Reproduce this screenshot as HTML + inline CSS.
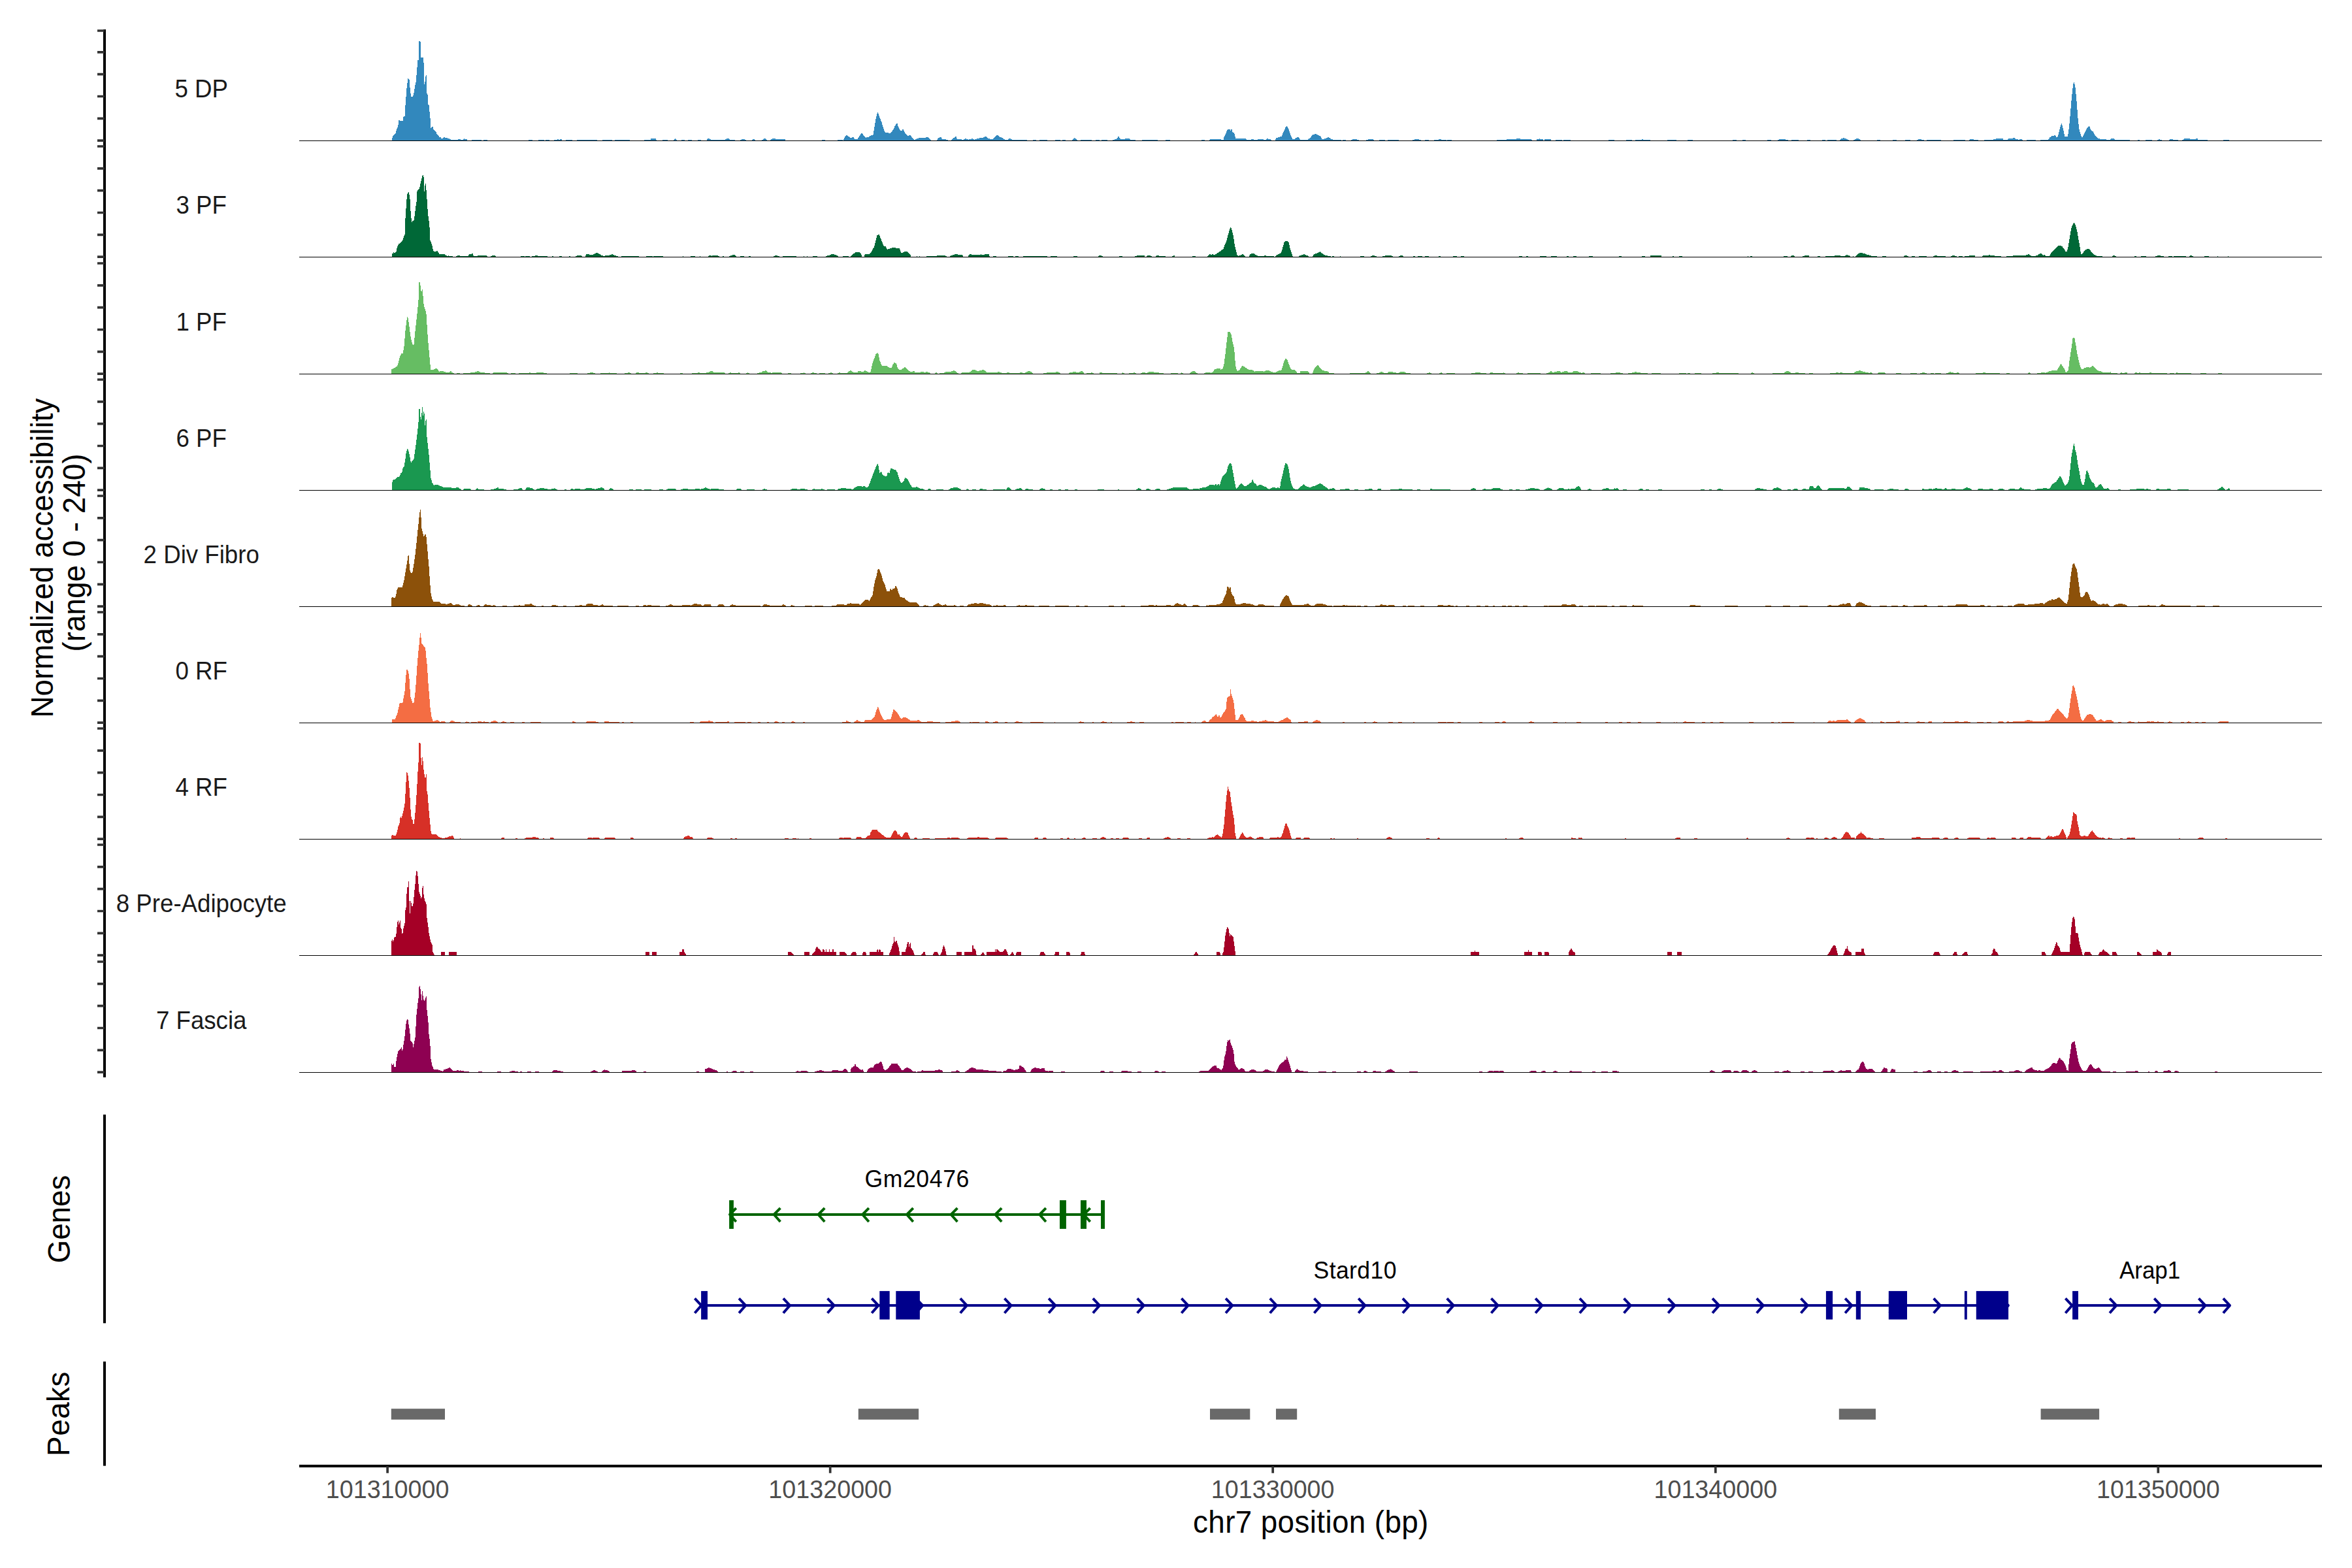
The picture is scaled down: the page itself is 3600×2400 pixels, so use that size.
<!DOCTYPE html>
<html><head><meta charset="utf-8"><title>Coverage plot</title>
<style>html,body{margin:0;padding:0;background:#fff}svg{display:block}text{font-family:"Liberation Sans", sans-serif}</style></head>
<body>
<svg width="3600" height="2400" viewBox="0 0 3600 2400">
<rect width="3600" height="2400" fill="#fff"/>
<path d="M599.9 215.5L599.9 215.5L600.8 209.4L603.4 205.6L605.7 204.3L607.2 197.3L609.1 193.5L610.5 183.9L611.5 183.9L612.3 184.8L616.8 184.8L617.4 178.8L619.9 177.3L620.6 159.1L621.6 146.9L622.5 134.8L623.5 127.8L623.7 119.5L624.7 119.5L626.6 122.1L627.3 131.6L628.5 143.1L629.3 148L631.7 148L633.3 143.1L634.6 135.5L635.6 129.1L636.5 125.9L637.3 117L638.3 105.5L639.3 91.7L641 91.5L641.4 77.7L641.5 62.8L642.5 62.8L643.8 64L643.9 88.5L647.3 87.8L648 87.8L648 95.5L648.9 96.6L649 128.7L650.1 128.7L651.2 117.6L652.2 114.8L652.9 114.8L652.9 141.8L654.6 145L655 159.1L656.6 161L656.9 170.5L657.8 171.8L658.2 180.7L658.9 181.4L659.1 196.1L660.1 195.7L661.2 193.8L662.2 193.8L663.1 195.4L663.3 198L667.8 202.2L668.2 205L671 207.5L672.2 209.7L674.8 209.8L675.2 211.7L678 211.7L679 209.7L680 209.7L680.8 210.1L681.2 211.4L681.9 210.7L682.9 210.7L684.4 211L686.3 212.2L689.8 212.9L690.1 213.9L700.3 213.9L701.6 212.9L704.8 212.9L705 213.9L709 213.9L710 212L711 212L711.8 212.9L715 212.9L715.1 215.5L715.1 215.5ZM722.2 215.5V214H736.7V215.5ZM740.1 215.5V214H746V215.5ZM809.1 215.5V214H815.1V215.5ZM824 215.5V214H833V215.5ZM835.3 215.5V214H841V215.5ZM848.3 215.5L848.3 215.5L848.5 213.9L853.4 213.9L853.6 212.9L855.3 212.9L855.4 213.9L857.2 213.9L857.3 212.9L860 212.9L860 215.5L860 215.5ZM866.1 215.5V214H876V215.5ZM883.1 215.5V214H913.8V215.5ZM922.1 215.5V214H937V215.5ZM941.1 215.5V214H963.8V215.5ZM986.1 215.5L986.1 215.5L986.7 213.7L995.6 213.7L996.2 211.6L1003 211.6L1006 215.5L1006 215.5ZM1013.5 215.5V213.5H1022.4V215.5ZM1029.8 215.5L1029.8 215.5L1033.2 212.2L1034.2 212.2L1037.3 215.5L1037.3 215.5ZM1042.6 215.5V214H1047.7V215.5ZM1053 215.5V214H1059V215.5ZM1067.9 215.5V214H1073V215.5ZM1081 215.5L1081 215.5L1083.8 211.6L1084.8 211.6L1087.9 213.7L1110.2 213.7L1113.5 211.6L1114.5 211.6L1117.6 213.7L1125.1 213.7L1125.4 215.5L1125.4 215.5ZM1131.9 215.5L1131.9 215.5L1136.5 212.5L1137.5 212.5L1144.4 215.5L1144.4 215.5ZM1149.8 215.5L1149.8 215.5L1152.8 212.5L1153.8 212.5L1156.9 215.5L1156.9 215.5ZM1165.2 215.5L1165.2 215.5L1169.8 211.6L1170.8 211.6L1174.8 215.5L1174.8 215.5ZM1178 215.5L1178 215.5L1182.6 211.6L1183.6 211.6L1189 213.1L1201.8 213.4L1202.1 215.5L1202.1 215.5ZM1257.5 215.5V214H1262.9V215.5ZM1281.9 215.5V214H1290.2V215.5ZM1290.2 215.5L1290.2 215.5L1293.2 209.5L1295.7 207.2L1296.7 207.2L1299.8 209.5L1302.7 211.3L1305.2 210.1L1306.2 210.1L1308.7 213.1L1312.6 213.1L1315.5 207.8L1318.6 204.2L1319.6 204.2L1322.4 207.8L1325.4 210.7L1328.9 210.1L1332.5 207.8L1336.4 206.6L1337.9 198.2L1340.2 183.3L1343 172.3L1344 172.3L1346.2 178.9L1349.2 186.3L1351.8 195.3L1354.8 202.7L1358.7 203.3L1362.3 204.2L1365.2 201.2L1368.2 196.7L1370 192.3L1372.5 189.3L1373.5 189.3L1375.1 194.7L1378 199.7L1380.1 200.6L1381.4 197.6L1382.4 197.6L1384 201.8L1387 205.7L1389 208.1L1392.4 207.2L1393.4 207.2L1395.9 210.1L1399.8 214L1401.8 213.1L1404.8 211.6L1410.8 211L1416.7 211L1418.3 209.5L1419.3 209.5L1421.8 211L1425.7 215.5L1425.7 215.5ZM1434 215.5L1434 215.5L1436.1 211L1440 210.1L1441 210.1L1442 213.1L1450.4 213.7L1451 215.5L1451 215.5ZM1455.4 215.5L1455.4 215.5L1459.3 211.6L1462.4 209.2L1463.4 209.2L1465.2 213.1L1474.8 213.7L1477.2 212.2L1478.2 212.2L1482.2 213.7L1487.7 212.2L1488.7 212.2L1491.1 213.7L1497.1 211.9L1504.5 210.7L1508.5 208.9L1509.5 208.9L1512 211.3L1516.4 213.1L1520 213.1L1520 215.5L1520 215.5ZM1520 215.5L1520 215.5L1520 213.1L1523 209.2L1526 206.6L1527 206.6L1530.4 209.5L1534.9 211.6L1537.9 213.7L1542.3 213.7L1544.8 211.9L1545.8 211.9L1548.3 213.1L1549.8 214L1572.1 214L1572.4 215.5L1572.4 215.5ZM1581 215.5V214H1585.5V215.5ZM1591.4 215.5V213.8H1602.7V215.5ZM1615.2 215.5V214H1622.7V215.5ZM1625.7 215.5V214H1630.7V215.5ZM1639.9 215.5L1639.9 215.5L1643.9 211.3L1644.9 211.3L1648 213.1L1649.5 215.5L1649.5 215.5ZM1653.9 215.5V214H1670.9V215.5ZM1677.1 215.5V214H1682.8V215.5ZM1686.1 215.5V214H1695V215.5ZM1703 215.5L1703 215.5L1703.3 214L1709 213.1L1711.5 209.2L1712.5 209.2L1714 211.6L1716.4 213.4L1721.8 213.4L1722.5 211.9L1723.5 211.9L1728.3 212.2L1729.8 213.7L1737.9 214L1738.2 215.5L1738.2 215.5ZM1748.3 215.5V214H1772.1V215.5ZM1784 215.5V214H1790.8V215.5ZM1839 215.5V214H1843.8V215.5ZM1850.4 215.5L1850.4 215.5L1851.8 213.4L1859.3 213.4L1862.3 212.5L1866.7 212.5L1869.7 213.7L1872.7 213.7L1873.6 210.1L1875.7 205.7L1878 199.7L1879.6 198.2L1880.6 198.2L1881 200.6L1881.7 197.6L1882.7 197.6L1883.7 200.6L1884.4 197.6L1885.4 197.6L1886.1 202.1L1889 203.3L1890.5 208.6L1891.4 212.2L1906.9 212.2L1908.4 214L1914.3 214L1916.8 212.5L1917.8 212.5L1919.4 214L1924.2 214L1926.2 212.5L1932.2 212.5L1934.3 214L1938.2 214L1939.1 212.2L1940.1 212.2L1942 213.4L1945 213.4L1946.2 215.5L1946.2 215.5ZM1951.5 215.5L1951.5 215.5L1953 211.6L1957.5 210.1L1962 208.6L1963.5 204.2L1965.8 199.7L1967.9 194.4L1968.9 193.2L1969.9 193.2L1971.8 196.7L1973.9 201.8L1976 208.6L1978.3 212.5L1981.3 213.1L1984.3 210.7L1986.2 209.5L1987.2 209.5L1988.8 211.6L1990.2 214L2000.7 214L2005.1 211.6L2008.1 207.2L2011.1 205.7L2013.5 204.8L2014.5 204.8L2017 206.6L2021.5 208.6L2023.6 213.1L2026 213.1L2029.5 211.6L2032.9 210.1L2033.9 210.1L2036.4 212.2L2040.8 213.7L2045.3 214L2052.7 214L2054.2 215.5L2054.2 215.5ZM2054.8 215.5V214H2060.2V215.5ZM2065.2 215.5L2065.2 215.5L2070.6 213.4L2073.7 212.5L2074.7 212.5L2076 213.4L2079.5 214L2079.8 215.5L2079.8 215.5ZM2089 215.5L2089 215.5L2092.9 213.7L2096.9 212.8L2097.9 212.8L2101.8 213.4L2103.3 215.5L2103.3 215.5ZM2111.4 215.5V214H2119.7V215.5ZM2124.2 215.5V214H2141.1V215.5ZM2159.3 215.5L2159.3 215.5L2164.3 213.7L2168.3 212.8L2169.3 212.8L2173.3 213.7L2176.2 215.5L2176.2 215.5ZM2181.3 215.5V214H2186.7V215.5ZM2195 215.5L2195 215.5L2195.6 213.7L2201.5 213.7L2203.4 213.1L2204.4 213.1L2206.3 213.7L2213.5 213.7L2213.8 215.5L2213.8 215.5ZM2214.9 215.5V214H2220V215.5ZM2220 215.5V214H2222.4V215.5ZM2290.8 215.5L2290.8 215.5L2291.1 213.7L2306.3 213.7L2306.6 212.8L2321.2 212.8L2321.5 211.9L2326.5 211.9L2326.8 213.4L2340.5 213.4L2340.8 212.5L2344.4 212.5L2344.7 215.5L2344.7 215.5ZM2351.8 215.5L2351.8 215.5L2352.4 213.1L2355.4 213.1L2355.8 212.2L2356.8 212.2L2357.5 213.1L2362.3 213.1L2362.6 215.5L2362.6 215.5ZM2363.5 215.5L2363.5 215.5L2364 213.1L2367.3 213.1L2368.3 212.5L2369.3 212.5L2370.3 213.1L2373.9 213.1L2374.2 215.5L2374.2 215.5ZM2380.7 215.5V214H2391.1V215.5ZM2393.2 215.5V214H2403.9V215.5ZM2462 215.5V214H2470.9V215.5ZM2488.8 215.5V214H2497.7V215.5ZM2502.7 215.5L2502.7 215.5L2503 213.7L2513.2 213.7L2513.5 212.5L2514.5 212.5L2514.9 213.7L2526 213.7L2526.2 215.5L2526.2 215.5ZM2551.8 215.5V214H2565.8V215.5ZM2583.1 215.5V214H2591.1V215.5ZM2652.1 215.5V214H2658.1V215.5ZM2667 215.5V214H2671.8V215.5ZM2705.1 215.5V214H2711.1V215.5ZM2719.1 215.5L2719.1 215.5L2723 213.4L2725.5 212.8L2726.5 212.8L2730.4 213.4L2736.4 213.7L2737 215.5L2737 215.5ZM2742.3 215.5V213.8H2752.7V215.5ZM2766.1 215.5V214H2770.6V215.5ZM2789 215.5V214H2793.8V215.5ZM2797.4 215.5V213.8H2810.8V215.5ZM2814.6 215.5L2814.6 215.5L2818.2 212.5L2821.3 211.3L2822.3 211.3L2825.7 212.5L2829.5 214L2829.8 215.5L2829.8 215.5ZM2836.1 215.5L2836.1 215.5L2839.6 212.8L2843 212.2L2844 212.2L2846.5 212.8L2848.9 215.5L2848.9 215.5ZM2873.3 215.5V214H2877.7V215.5ZM2897.1 215.5V214H2903V215.5ZM2916.4 215.5V214H2920V215.5ZM2900 215.5V214H2903V215.5ZM2917 215.5V214H2923.8V215.5ZM2932.7 215.5L2932.7 215.5L2936.7 213.1L2937.7 213.1L2944.6 214L2945.2 215.5L2945.2 215.5ZM2949.1 215.5V214H2970.8V215.5ZM2990.2 215.5V214H3008V215.5ZM3012.2 215.5L3012.2 215.5L3015.6 213.4L3016.6 213.4L3028 213.7L3028.9 215.5L3028.9 215.5ZM3036.3 215.5L3036.3 215.5L3036.9 213.7L3050.3 213.7L3054.8 212.5L3064.7 212.2L3065.7 212.2L3066.1 213.7L3072.6 213.7L3074.1 212.2L3080.1 212.2L3082.5 211L3083.5 211L3085.1 213.1L3090.5 213.7L3093 213.1L3094 213.1L3097 215.5L3097 215.5ZM3101.5 215.5V214H3115.8V215.5ZM3122.6 215.5L3122.6 215.5L3123.2 213.7L3135.1 213.7L3137.2 210.7L3141.1 208.1L3145 207.2L3146 207.2L3147.6 210.1L3150 208.6L3152.4 198.2L3154.9 189.3L3155.9 189.3L3158 198.2L3160.4 208.6L3164.9 208.6L3167 195.3L3168.8 174.4L3170.8 150.6L3172.9 131.3L3173.9 125.9L3174.9 125.9L3176.8 135.7L3178.9 159.5L3180.7 183.3L3182.7 199.7L3185.1 207.2L3187.2 210.7L3190.2 204.2L3194 196.7L3197.1 193.2L3198.1 193.2L3200.6 199.7L3203.6 201.2L3206.5 206.6L3211 211.6L3214 212.5L3222.9 212.5L3224.4 214L3228.9 214L3231.8 212.2L3235.7 212.2L3237.8 214L3260.1 214L3260.7 215.5L3260.7 215.5ZM3272 215.5V214H3275V215.5ZM3283.9 215.5V213.8H3294.3V215.5ZM3300.3 215.5L3300.3 215.5L3304.3 213.4L3305.3 213.4L3308.3 214L3309.2 215.5L3309.2 215.5ZM3318.2 215.5L3318.2 215.5L3322.1 212.8L3323.1 212.8L3327.1 213.7L3333.9 214L3334.5 215.5L3334.5 215.5ZM3339 215.5L3339 215.5L3344.4 211.6L3345.4 211.6L3352.4 212.5L3359.8 212.8L3362.3 212.2L3363.3 212.2L3364.3 213.7L3373.2 214L3377.2 213.7L3378.2 213.7L3379.2 215.5L3379.2 215.5ZM3403 215.5V214H3411.9V215.5Z" fill="#3288BD" shape-rendering="crispEdges"/>
<rect x="458" y="215" width="3096" height="1" fill="#000"/>
<text transform="translate(308.2 148.8) scale(1 1.04)" font-size="36.67" text-anchor="middle" fill="#1A1A1A">5 DP</text>
<path d="M599.9 393.5L599.9 393.5L600.2 388.2L601.8 388L602 385.9L603 385.9L603.4 387.2L605.3 386.7L606.6 384.4L608.2 377.4L610.4 373.2L611.7 372.9L615.7 368.8L617.1 365.2L618.4 360.8L619.7 358.9L620.2 338.5L621.2 324.4L622.2 307.2L623.5 297L624.9 293.8L625.9 293.8L626.7 298.9L627.9 308.5L628.6 324.4L629.5 334L630.2 340L631.4 338.2L633.6 336.9L635 328.3L636.1 316.8L637.4 311L638.2 293.2L639.7 290.6L641.9 288.5L643.5 281.1L645.1 274.1L646.9 267.9L647.9 267.9L648.6 271.1L649.3 292.8L649.9 292.8L650.3 284.9L651.1 281.1L652.1 281.1L652.1 291.3L652.9 291.3L653.5 305.3L654.4 319.3L655.3 328.9L656.6 339.1L657.6 349.3L658.2 367.2L659.5 370.4L660.8 373.5L662 378L663.1 384.1L665.2 385L667.8 385L668.2 384L669.2 384L671 386.3L672.2 389.1L680.5 389.1L682.2 391L684.4 391.7L685.6 392L685.8 391L686.8 391L687.2 392L692.7 392L693 393.5L693 393.5ZM697.8 393.5L697.8 393.5L698.4 392L700.9 391.4L703.5 391.4L704.1 392L716.6 392L717.5 389.7L718.8 389.1L721.7 389.1L722.6 388.2L723.6 388.2L724.3 391L725.2 392L730.9 392L731.6 391.1L744.7 391.1L745.2 391.8L746.9 393.5L746.9 393.5ZM750.7 393.5L750.7 393.5L751.3 392L755.2 391.1L757.7 391.1L759.9 393.5L759.9 393.5ZM797 393.5V392.2H803V393.5ZM803.9 393.5V392.2H811V393.5ZM813.8 393.5L813.8 393.5L814 392L818.9 392L819.1 391.1L822.8 391.1L822.9 392L830.2 392L830.3 393.5L830.3 393.5ZM831 393.5V392.2H838.1V393.5ZM845.1 393.5V392.2H847V393.5ZM820 393.5V391.8H837.9V393.5ZM845.3 393.5V392H846.8V393.5ZM855.7 393.5V392H860.2V393.5ZM870.6 393.5V392H873V393.5ZM879.5 393.5L879.5 393.5L884 391.1L889.9 391.1L891.4 393.5L891.4 393.5ZM895.9 393.5L895.9 393.5L896.8 389.3L901.8 389.3L904.2 390.5L907.8 389.9L910.8 388.1L913.2 386.9L914.2 386.9L916.7 388.1L921.2 391.1L924.2 391.7L931.6 390.8L937.1 389.3L938.1 389.3L940.5 391.1L945 392L946.5 393.5L946.5 393.5ZM951 393.5V391.5H977.7V393.5ZM988.8 393.5V391.8H998.6V393.5ZM1000.1 393.5V391.8H1014.9V393.5ZM1044.7 393.5V392H1045.9V393.5ZM1056.6 393.5V391.8H1064V393.5ZM1070.9 393.5V392H1072.1V393.5ZM1083.4 393.5L1083.4 393.5L1086.5 390.5L1087.5 390.5L1089.3 391.7L1092.3 390.8L1096.8 390.8L1101.2 392L1101.5 393.5L1101.5 393.5ZM1105.7 393.5V392H1108.1V393.5ZM1114.6 393.5L1114.6 393.5L1119.1 390.8L1123.1 390.2L1124.1 390.2L1126.5 391.7L1128 393.5L1128 393.5ZM1132.5 393.5V392H1138.5V393.5ZM1145.9 393.5V392H1148.9V393.5ZM1181.6 393.5L1181.6 393.5L1187.1 391.1L1188.1 391.1L1192 392L1194.4 393.5L1194.4 393.5ZM1198 393.5V391.8H1218.8V393.5ZM1230.1 393.5V392H1231.3V393.5ZM1234.6 393.5V392H1235.8V393.5ZM1244.1 393.5V392H1251V393.5ZM1262 393.5L1262 393.5L1264.9 391.7L1269.4 391.1L1273.4 388.7L1274.4 388.7L1278.3 389.9L1282.8 391.7L1284.3 393.5L1284.3 393.5ZM1290.2 393.5V391.8H1298.6V393.5ZM1301.5 393.5L1301.5 393.5L1305.1 389.3L1309.6 386.4L1316.4 386.4L1318.5 390.2L1319.4 393.5L1319.4 393.5ZM1323 393.5L1323 393.5L1323.6 389.3L1330.4 389.3L1332.5 387.5L1334.9 382.8L1337.9 378.3L1340.2 369.4L1342.3 360.5L1344.8 359.3L1345.8 359.3L1347.4 363.4L1349.8 369.4L1352.7 376.8L1355.7 377.4L1358.1 381.9L1362.3 380.4L1367.1 378.6L1368.1 378.6L1372.1 379.8L1377.1 380.4L1378.9 386.4L1381 387.2L1384.6 385.2L1388.5 385.2L1391.4 387.8L1393.8 390.2L1394.4 393.5L1394.4 393.5ZM1402.7 393.5V392H1403.9V393.5ZM1407.2 393.5V392H1408.4V393.5ZM1418.2 393.5V391.8H1433.1V393.5ZM1432.5 393.5L1432.5 393.5L1433.1 391.7L1437.6 390.5L1445 390.5L1448.6 392L1451 393.5L1451 393.5ZM1452.4 393.5L1452.4 393.5L1455.4 391.1L1459.9 389.9L1463.8 388.7L1464.8 388.7L1467.3 390.2L1473.3 390.2L1474.8 393.5L1474.8 393.5ZM1480.7 393.5L1480.7 393.5L1484.7 388.7L1485.7 388.7L1489.6 390.5L1493.6 389.6L1494.6 389.6L1498.6 390.5L1501 389.3L1502 389.3L1504.5 390.5L1507.5 389.3L1513.5 389.3L1514 392L1517.9 393.5L1517.9 393.5ZM1520 393.5V391.8H1525.4V393.5ZM1543.2 393.5V392H1550.7V393.5ZM1554.2 393.5V392H1558.7V393.5ZM1566.1 393.5V391.8H1602.7V393.5ZM1608.4 393.5V392H1617.6V393.5ZM1642.9 393.5V392H1648.6V393.5ZM1679.2 393.5L1679.2 393.5L1682.6 391.1L1683.6 391.1L1688.2 392L1689 393.5L1689 393.5ZM1712.9 393.5V392H1717.9V393.5ZM1734.9 393.5L1734.9 393.5L1740.2 391.4L1744.7 390.8L1751.5 390.8L1753 393.5L1753 393.5ZM1754.5 393.5L1754.5 393.5L1755.1 392L1757.6 390.8L1758.6 390.8L1762.6 392L1763.5 393.5L1763.5 393.5ZM1768.5 393.5L1768.5 393.5L1771 390.8L1772 390.8L1774.5 391.7L1783.4 391.7L1784 393.5L1784 393.5ZM1792.9 393.5L1792.9 393.5L1796.3 391.1L1797.3 391.1L1798.9 393.5L1798.9 393.5ZM1825.1 393.5V392H1830.1V393.5ZM1846.8 393.5L1846.8 393.5L1849.8 391.1L1851.3 389.3L1852.3 389.3L1853.9 390.5L1855.8 389.3L1856.8 389.3L1858.4 390.5L1862.3 388.1L1866.7 385.2L1872.7 380.7L1874.2 375.3L1877.1 369.4L1879.5 360.5L1881.6 353L1883.2 348L1884.2 348L1886.1 354.5L1888.2 363.4L1889.9 375.3L1892 384.3L1893.5 390.2L1895.6 391.7L1899.5 390.2L1901.9 389.3L1902.9 389.3L1904.8 391.1L1906.3 393.5L1906.3 393.5ZM1911.4 393.5L1911.4 393.5L1913.5 389.3L1916.8 387.5L1917.8 387.5L1920.3 388.7L1923.3 390.8L1925.4 392L1933.7 392L1936.2 391.1L1937.2 391.1L1939.6 392L1948.6 392L1951.5 393.5L1951.5 393.5ZM1951.5 393.5L1951.5 393.5L1954.5 390.2L1959 388.1L1961.4 385.8L1963.5 378.3L1965.5 370.9L1967.9 368.5L1970.9 368.5L1973 372.4L1974.8 381.3L1976.8 387.2L1978.9 393.5L1978.9 393.5ZM1985.8 393.5L1985.8 393.5L1990.2 391.1L1995.1 389.3L1996.1 389.3L1999.2 390.8L2002.1 391.1L2003.6 393.5L2003.6 393.5ZM2008.1 393.5L2008.1 393.5L2011.1 389.3L2015.5 387.8L2020.1 385.2L2021.1 385.2L2023 387.2L2026 389.3L2029.5 391.4L2036.4 391.7L2037 393.5L2037 393.5ZM2039.3 393.5V392H2042.3V393.5ZM2050.7 393.5V392H2051.8V393.5ZM2081.9 393.5V391.8H2087.9V393.5ZM2096.5 393.5L2096.5 393.5L2101.3 391.1L2102.3 391.1L2106.9 392L2107.8 393.5L2107.8 393.5ZM2114.3 393.5L2114.3 393.5L2118.2 391.7L2125.2 390.8L2126.2 390.8L2131.6 391.7L2132.5 393.5L2132.5 393.5ZM2139.9 393.5L2139.9 393.5L2143.6 390.8L2144.6 390.8L2148 392L2148.6 393.5L2148.6 393.5ZM2162.9 393.5V392H2166.4V393.5ZM2170.3 393.5V392H2176.8V393.5ZM2180.7 393.5V392H2186.7V393.5ZM2201.5 393.5V392H2205.1V393.5ZM2223.6 393.5V392H2229.8V393.5ZM2235.5 393.5V392H2240.8V393.5ZM2325.1 393.5V392H2330.1V393.5ZM2335.5 393.5V392H2339V393.5ZM2356.9 393.5V392H2366.7V393.5ZM2373.9 393.5V392H2382.8V393.5ZM2398 393.5V392H2401V393.5ZM2408.1 393.5V392H2412.9V393.5ZM2431.9 393.5V392H2437.9V393.5ZM2478 393.5V392H2481.9V393.5ZM2513.2 393.5V392H2518.2V393.5ZM2526 393.5L2526 393.5L2526.2 391.4L2537 391.4L2537.4 390.5L2538.4 390.5L2538.8 391.4L2542.9 391.4L2543.2 393.5L2543.2 393.5ZM2560.2 393.5V392H2561.7V393.5ZM2569.7 393.5V392H2574.8V393.5ZM2674.8 393.5V392H2676V393.5ZM2679.2 393.5V392H2681.9V393.5ZM2729.8 393.5V392H2735.8V393.5ZM2739.9 393.5L2739.9 393.5L2743.3 390.8L2744.3 390.8L2746.8 392L2747.4 393.5L2747.4 393.5ZM2756.6 393.5L2756.6 393.5L2760.2 391.7L2764.6 391.1L2767.1 390.8L2768.1 390.8L2770 393.5L2770 393.5ZM2781.9 393.5V392H2786.1V393.5ZM2792.9 393.5L2792.9 393.5L2794.4 391.7L2807.8 391.7L2810.3 390.5L2811.3 390.5L2816.7 391.1L2817.3 392L2823.6 392L2826 390.2L2827 390.2L2830.1 391.1L2832.5 393.5L2832.5 393.5ZM2835.5 393.5V392H2836.7V393.5ZM2839.6 393.5L2839.6 393.5L2843.5 388.7L2846.5 387.2L2849.5 387.2L2853.9 388.1L2858.4 389.9L2862.9 391.1L2864.3 392L2872.7 392L2873.3 393.5L2873.3 393.5ZM2880.7 393.5V392H2886.7V393.5ZM2913.5 393.5L2913.5 393.5L2915.9 391.1L2916.9 391.1L2920 392L2920 393.5L2920 393.5ZM2913.4 393.5L2913.4 393.5L2915.9 391.1L2916.9 391.1L2920.8 392L2921.7 393.5L2921.7 393.5ZM2925.9 393.5V392H2931.2V393.5ZM2937.2 393.5V391.8H2948.5V393.5ZM2956.5 393.5L2956.5 393.5L2962 391.1L2963 391.1L2968.5 392L2977.4 392L2978 393.5L2978 393.5ZM2983.9 393.5L2983.9 393.5L2988.8 391.1L2989.8 391.1L2994.6 392L2995.2 393.5L2995.2 393.5ZM2998.2 393.5V392H3004.2V393.5ZM3006.2 393.5L3006.2 393.5L3007.1 392L3016.1 391.4L3021.5 391.1L3022.5 391.1L3023.5 393.5L3023.5 393.5ZM3032.4 393.5L3032.4 393.5L3035.4 391.4L3041.4 391.4L3044.4 390.2L3045.4 390.2L3047.9 391.1L3054.8 391.7L3063.1 392L3063.7 393.5L3063.7 393.5ZM3069.6 393.5L3069.6 393.5L3071.1 392L3080.1 391.7L3084.5 391.1L3093.5 391.1L3097.9 391.1L3102.4 390.2L3104.9 389.3L3105.9 389.3L3108.3 391.1L3109.8 392L3114.3 392L3118.8 390.8L3122.1 388.1L3123.1 388.1L3125.3 388.7L3127.7 391.1L3128.7 390.2L3129.7 390.2L3130.7 391.7L3137.2 391.7L3139.6 387.2L3142.6 384.3L3145.5 381.3L3148.5 377.7L3151.9 375.6L3152.9 375.6L3156 376.8L3158.9 380.4L3161.9 385.2L3163.4 385.2L3165.5 378.3L3167.9 363.4L3170.2 350L3172.3 344.1L3173.9 341.1L3174.9 341.1L3176.8 344.7L3179.2 353L3181.2 364.9L3183.3 376.8L3185.1 388.7L3187.2 388.7L3190.2 384.3L3193.2 381.9L3195.6 380.7L3196.6 380.7L3199.1 382.8L3202.1 387.2L3206 390.2L3209.5 392L3217.9 392L3218.5 393.5L3218.5 393.5ZM3231.8 393.5L3231.8 393.5L3234.3 391.1L3235.3 391.1L3238.7 392L3239.3 393.5L3239.3 393.5ZM3267 393.5V392H3269.9V393.5ZM3277.4 393.5V392H3284.8V393.5ZM3295.8 393.5L3295.8 393.5L3301.8 391.7L3304.9 390.5L3305.9 390.5L3307.7 391.7L3312.2 392L3312.8 393.5L3312.8 393.5ZM3319 393.5V392H3325V393.5ZM3327.1 393.5V392H3345.8V393.5ZM3349.4 393.5L3349.4 393.5L3352.5 391.1L3353.5 391.1L3356.8 392L3357.7 393.5L3357.7 393.5ZM3373.8 393.5V392H3380.7V393.5ZM3393.5 393.5V392H3394.6V393.5ZM3409.8 393.5V392H3411V393.5Z" fill="#006837" shape-rendering="crispEdges"/>
<rect x="458" y="393" width="3096" height="1" fill="#000"/>
<text transform="translate(308.2 326.8) scale(1 1.04)" font-size="36.67" text-anchor="middle" fill="#1A1A1A">3 PF</text>
<path d="M598.8 572.5L598.8 572.5L599.1 565.1L603 563.5L608 560.5L609.9 554.8L612.2 545.6L614.5 541L616.7 540.6L618.6 529.5L620.2 508.9L621.8 495.1L623.1 485.2L624.1 485.2L625.2 490.5L627.1 504.3L628.9 518.1L631 526.1L633.3 529.1L635.1 511.2L637.4 490.5L639.3 472.1L640.6 458.3L641.5 431.9L642.5 431.9L643.8 438.8L645 449.2L646.1 443L647.1 443L647.8 460.6L649.6 471L652.3 477.9L653.5 497.4L654.9 518.1L656.5 536.4L658.1 553.7L659.2 566.3L663.1 566.3L666.8 564L667.8 564L669.6 565.1L672.3 568.6L677.1 568.1L678.1 568.1L682.2 569.7L687.9 569.7L689.7 568.1L690.7 568.1L691.9 570.2L694.8 570.9L696 572.5L696 572.5ZM699.4 572.5V571.1H704V572.5ZM709.1 572.5L709.1 572.5L709.3 570.9L719 570.9L720.1 570.2L727 569.7L731.1 567.9L732.1 567.9L734.3 569L736.2 570.2L740.8 570.2L743.1 570.9L750 570.9L750.2 572.5L750.2 572.5ZM753.4 572.5L753.4 572.5L753.6 570.9L756.8 570L774.1 570L777.5 570.9L777.7 572.5L777.7 572.5ZM782.1 572.5V571.1H789V572.5ZM794.1 572.5L794.1 572.5L794.3 570.9L809.7 570.9L809.9 569.5L810.9 569.5L812 570.9L820 570.9L820 572.5L820 572.5ZM820 572.5L820 572.5L820 570.7L824 570.1L825 570.1L828.9 570.4L836.4 570.7L837 572.5L837 572.5ZM872.1 572.5V571H884V572.5ZM895 572.5L895 572.5L904.3 570.1L905.3 570.1L909.3 570.7L912.9 572.5L912.9 572.5ZM919.1 572.5L919.1 572.5L919.4 570.7L931.6 570.7L932 570.1L933 570.1L933.4 570.7L943.5 570.7L943.8 572.5L943.8 572.5ZM951.8 572.5L951.8 572.5L962.4 570.1L963.4 570.1L967.3 572.5L967.3 572.5ZM971.2 572.5L971.2 572.5L974.9 570.1L975.9 570.1L979.2 570.7L986.7 570.7L989.7 570.1L990.7 570.1L995 572.5L995 572.5ZM1000.1 572.5L1000.1 572.5L1000.4 570.7L1004.5 570.7L1005.5 570.1L1006.5 570.1L1007.5 570.7L1015.8 570.7L1016.1 572.5L1016.1 572.5ZM1040.8 572.5V571H1044.7V572.5ZM1048.6 572.5L1048.6 572.5L1067 570.7L1068.9 570.1L1069.9 570.1L1071.5 571L1080.4 570.7L1084.9 569.5L1088.8 568L1089.8 568L1092.3 569.5L1096.8 570.1L1108.7 570.1L1111.7 572.5L1111.7 572.5ZM1114 572.5L1114 572.5L1117.1 570.4L1118.1 570.4L1120.6 571L1128 570.7L1130.5 570.4L1131.5 570.4L1134 572.5L1134 572.5ZM1139.9 572.5L1139.9 572.5L1143.9 570.4L1144.9 570.4L1148.3 572.5L1148.3 572.5ZM1155.7 572.5L1155.7 572.5L1162.3 570.4L1165.8 569.5L1168.2 567.7L1172.2 567.4L1173.2 567.4L1175.7 570.1L1181.6 570.7L1184.6 569.8L1189 569.5L1193.5 569.5L1196.5 571L1197.1 572.5L1197.1 572.5ZM1206 572.5V571H1210.8V572.5ZM1221.2 572.5L1221.2 572.5L1230.2 570.4L1231.2 570.4L1234.6 572.5L1234.6 572.5ZM1239 572.5L1239 572.5L1243.6 570.4L1244.6 570.4L1250.1 571L1251 572.5L1251 572.5ZM1253.9 572.5V571H1262.6V572.5ZM1264 572.5L1264 572.5L1271.9 570.4L1272.9 570.4L1276.8 572.5L1276.8 572.5ZM1281.3 572.5L1281.3 572.5L1283.8 570.4L1284.8 570.4L1293.2 571L1296.2 571L1299.2 568.6L1301.6 567.1L1302.6 567.1L1305.1 569.2L1308.1 570.1L1312.6 570.1L1313.5 567.7L1314.5 567.7L1318.5 568.6L1320.6 569.5L1323.1 567.1L1324.1 567.1L1327.4 568.6L1329.5 570.1L1332.5 569.5L1334.9 558.2L1337.9 549.3L1340.8 540.9L1343.3 540.4L1344.3 540.4L1346.2 550.8L1349.2 558.2L1351.2 560.3L1355.2 559.7L1356.2 559.7L1358.7 561.2L1361.7 563.3L1364.6 562.7L1367 557.3L1368.6 555.2L1369.6 555.2L1372.1 556.7L1373.6 562.7L1376 566.2L1379.5 566.2L1382.5 563.6L1384.4 561.8L1385.4 561.8L1387.9 564.8L1391.4 568L1394.4 569.2L1398.4 568.3L1399.4 568.3L1401 570.1L1407.8 570.1L1411.8 568.6L1412.8 568.6L1415.2 570.1L1418.3 569.2L1419.3 569.2L1422.7 570.4L1425.7 572.5L1425.7 572.5ZM1429.5 572.5L1429.5 572.5L1432.6 570.4L1433.6 570.4L1435.5 572.5L1435.5 572.5ZM1437.6 572.5L1437.6 572.5L1437.9 571L1445 570.7L1448 569.2L1453.9 569.2L1459.4 567.4L1460.4 567.4L1462.9 568L1465.8 571L1470.3 572.5L1470.3 572.5ZM1470.6 572.5L1470.6 572.5L1471.8 570.1L1483.7 570.1L1486.7 567.7L1489.7 565.6L1490.7 565.6L1493.2 566.5L1496.2 568.6L1500.1 567.1L1504 566.2L1505 566.2L1508.1 567.7L1510.5 570.1L1520 570.1L1520 572.5L1520 572.5ZM1520 572.5L1520 572.5L1520 570.4L1524.5 570.1L1528.4 569.2L1529.4 569.2L1533.4 570.7L1539.3 571L1543.3 569.5L1544.3 569.5L1545.3 571L1560.2 571L1561.2 570.4L1562.2 570.4L1569.1 570.7L1572.1 568.6L1576 568.3L1577 568.3L1579.5 570.1L1581.9 572.5L1581.9 572.5ZM1592.9 572.5L1592.9 572.5L1600.4 570.7L1604.8 570.1L1608.8 569.5L1609.8 569.5L1613.8 570.1L1617.7 569.2L1618.7 569.2L1622.1 570.4L1624.2 572.5L1624.2 572.5ZM1634.6 572.5L1634.6 572.5L1637.6 570.1L1644.5 569.2L1645.5 569.2L1651 570.1L1654.9 567.7L1655.9 567.7L1658.4 569.5L1659.9 572.5L1659.9 572.5ZM1662.9 572.5L1662.9 572.5L1663.2 571L1671.3 570.4L1672.3 570.4L1676.2 572.5L1676.2 572.5ZM1682.2 572.5L1682.2 572.5L1683.2 569.8L1684.2 569.8L1688.2 570.7L1709.6 571L1710.5 572.5L1710.5 572.5ZM1715.5 572.5L1715.5 572.5L1718.3 570.4L1719.3 570.4L1722.4 572.5L1722.4 572.5ZM1728.3 572.5L1728.3 572.5L1728.6 570.7L1734.3 570.7L1735.3 570.1L1736.3 570.1L1737.3 570.7L1738.8 570.7L1739 572.5L1739 572.5ZM1744.7 572.5L1744.7 572.5L1747.7 570.4L1752.1 570.4L1755.1 571L1758.1 569.2L1762.1 568.9L1763.1 568.9L1768.5 570.1L1780.4 571L1781.3 572.5L1781.3 572.5ZM1792.3 572.5V571.1H1802.7V572.5ZM1805.1 572.5L1805.1 572.5L1808.2 570.4L1809.2 570.4L1813.2 572.5L1813.2 572.5ZM1820.6 572.5L1820.6 572.5L1823.6 569.2L1827.5 567.7L1828.5 567.7L1830.1 570.1L1832.5 571L1833.1 572.5L1833.1 572.5ZM1841.4 572.5L1841.4 572.5L1845.9 570.1L1851.3 569.5L1852.3 569.5L1853.3 571L1855.7 569.5L1859.3 565.6L1862.3 564.2L1866.2 563.6L1867.2 563.6L1868.2 565.6L1871.2 564.8L1873.3 558.2L1875.7 540.4L1877.7 522.5L1879.5 508.2L1881.1 507.6L1882.1 507.6L1884.6 512.1L1886.7 524L1889 532.9L1890.5 552.3L1892 564.8L1894.4 567.7L1897.4 566.2L1899.5 562.7L1901.3 559.7L1902.3 559.7L1905.4 562.1L1909.9 564.8L1912.9 566.2L1917.3 566.5L1920.3 568.6L1924.3 567.7L1925.3 567.7L1930.7 568.3L1935.2 568.6L1938.2 567.1L1942.6 567.1L1945.6 568.6L1950.1 570.1L1954.5 569.2L1956 567.7L1961.4 566.5L1963.5 559.7L1965.8 552.3L1967.4 548.7L1968.4 548.7L1970.3 550.8L1973 558.2L1975.4 563.6L1978.3 566.5L1980.8 566.2L1981.8 566.2L1984.3 569.2L1985.8 571L1989.6 571L1990.2 567.7L2000.7 567.7L2003.6 570.1L2005.1 572.5L2005.1 572.5ZM2008.7 572.5L2008.7 572.5L2011.1 565.6L2014 561.2L2016.5 558.8L2017.5 558.8L2020 562.7L2023.6 566.5L2027.4 567.7L2030.4 567.7L2033.4 569.2L2034.9 571L2042.3 571L2042.9 572.5L2042.9 572.5ZM2066.1 572.5L2066.1 572.5L2066.4 570.7L2089.9 570.7L2090.8 570.1L2093.3 568.3L2094.3 568.3L2096.8 570.1L2098 572.5L2098 572.5ZM2103.3 572.5L2103.3 572.5L2110.8 570.7L2114.1 569.2L2115.1 569.2L2118.2 570.7L2122.7 571L2125.7 569.2L2129.6 568.9L2130.6 568.9L2134.6 570.4L2140.5 570.7L2143.5 569.2L2147.5 568.9L2148.5 568.9L2151 570.4L2158.4 571L2159 572.5L2159 572.5ZM2180.7 572.5L2180.7 572.5L2187.7 570.4L2188.7 570.4L2193.2 572.5L2193.2 572.5ZM2201.5 572.5L2201.5 572.5L2205.5 570.4L2206.5 570.4L2209.9 572.5L2209.9 572.5ZM2213.5 572.5V571.1H2220V572.5ZM2220 572.5V570.5H2226.5V572.5ZM2246.8 572.5L2246.8 572.5L2258.7 570.4L2264.6 570.4L2275.1 571L2275.7 572.5L2275.7 572.5ZM2278.6 572.5L2278.6 572.5L2281 570.4L2284.9 570.4L2286.1 571L2300.4 571L2301.3 570.4L2302.3 570.4L2305.7 572.5L2305.7 572.5ZM2319.1 572.5L2319.1 572.5L2323.1 570.4L2324.1 570.4L2330.7 571L2331.6 572.5L2331.6 572.5ZM2338.2 572.5V571.1H2358.4V572.5ZM2364.3 572.5L2364.3 572.5L2370.3 570.4L2373.4 568.3L2374.4 568.3L2376.2 570.1L2380.7 569.2L2383.1 568.3L2388.2 568.3L2389.6 570.1L2392.6 568.6L2397.5 568.3L2398.5 568.3L2401.5 570.1L2406 570.1L2409 568L2412.4 567.7L2413.4 567.7L2416.4 569.2L2420.9 570.7L2423.4 570.1L2424.4 570.1L2426.8 572.5L2426.8 572.5ZM2434.9 572.5V571.1H2449.8V572.5ZM2457.2 572.5L2457.2 572.5L2471.5 570.7L2476.9 570.1L2477.9 570.1L2483.4 571L2484 572.5L2484 572.5ZM2486.4 572.5L2486.4 572.5L2498.3 570.4L2503.1 569.2L2504.1 569.2L2508.7 570.4L2521.5 571L2522.1 572.5L2522.1 572.5ZM2528 572.5V571.1H2542V572.5ZM2570.3 572.5V571.1H2580.7V572.5ZM2583.1 572.5V571.1H2586.7V572.5ZM2594.1 572.5V571.1H2603.9V572.5ZM2613.5 572.5L2613.5 572.5L2626.2 570.7L2628.7 570.1L2629.7 570.1L2632.2 570.7L2660.5 571L2661.1 572.5L2661.1 572.5ZM2677.7 572.5L2677.7 572.5L2681.7 570.4L2682.7 570.4L2686.7 572.5L2686.7 572.5ZM2701.2 572.5L2701.2 572.5L2723 570.7L2731.3 570.7L2733.4 568.6L2735.9 568L2736.9 568L2739.3 569.2L2741.4 570.7L2747.4 570.7L2749.3 570.1L2750.3 570.1L2754.2 570.7L2763.2 571L2764 572.5L2764 572.5ZM2769.1 572.5V571.1H2774.5V572.5ZM2789.9 572.5L2789.9 572.5L2809.3 570.7L2811.8 570.1L2812.8 570.1L2815.2 570.7L2817.7 570.1L2818.7 570.1L2821.2 571L2837.6 570.7L2840.5 568.6L2846 567.1L2847 567.1L2851 568.6L2856.9 570.1L2861.4 570.7L2863 570.1L2864 570.1L2867.3 572.5L2867.3 572.5ZM2871.8 572.5L2871.8 572.5L2876.2 570.1L2885.2 570.1L2886.7 572.5L2886.7 572.5ZM2903 572.5V570.8H2909.9V572.5ZM2902.4 572.5V570.8H2909.8V572.5ZM2923.8 572.5V571.1H2934.2V572.5ZM2936.3 572.5L2936.3 572.5L2942.7 570.1L2943.7 570.1L2949.1 571L2949.7 572.5L2949.7 572.5ZM2955.1 572.5V571.1H2959.5V572.5ZM2961.9 572.5V571.1H2970.8V572.5ZM2976.5 572.5L2976.5 572.5L2981.8 570.4L2984.3 569.2L2985.3 569.2L2988.4 570.4L2993.8 570.7L2996.2 570.1L2997.2 570.1L2999.7 572.5L2999.7 572.5ZM3011 572.5L3011 572.5L3033.9 570.7L3036.4 570.1L3037.4 570.1L3039.3 570.7L3060.7 571L3061.3 572.5L3061.3 572.5ZM3071.1 572.5V570.8H3076.2V572.5ZM3102.4 572.5L3102.4 572.5L3105.5 570.1L3106.5 570.1L3109.8 572.5L3109.8 572.5ZM3111.9 572.5L3111.9 572.5L3123.2 570.7L3127.2 570.1L3128.2 570.1L3130.7 570.7L3133.6 569.5L3136.6 568L3141.1 567.4L3145 566.5L3146 566.5L3148.5 567.1L3150.9 562.7L3154 557.3L3155 557.3L3157.4 561.2L3160.4 565.6L3161.9 570.1L3164.3 568.6L3165.8 567.1L3167.3 553.7L3169.3 540.4L3171.4 527L3172.7 516.5L3173.7 516.5L3175.3 517.1L3177.4 528.4L3179.2 540.4L3181.2 549.3L3183.3 558.2L3185.1 563.6L3187.2 565.6L3190.2 563.3L3194.1 562.1L3195.1 562.1L3199.1 562.7L3202.5 560.3L3203.5 560.3L3206 562.7L3209.5 566.2L3212.5 568L3217 568.6L3217.9 570.1L3228.9 570.1L3229.9 569.2L3230.9 569.2L3231 571L3240.8 571L3241.4 572.5L3241.4 572.5ZM3244.3 572.5L3244.3 572.5L3246.2 570.4L3247.2 570.4L3249.7 571L3252.7 570.4L3255.7 570.4L3256.2 572.5L3256.2 572.5ZM3265.5 572.5L3265.5 572.5L3268.5 570.1L3269.5 570.1L3272 571L3274.5 570.4L3275.5 570.4L3276.5 571L3288.4 571L3290.9 570.1L3291.9 570.1L3294.3 571L3316.7 571L3317.3 572.5L3317.3 572.5ZM3321.1 572.5V571.1H3328V572.5ZM3330.1 572.5L3330.1 572.5L3331 570.1L3332 570.1L3333.9 571L3353.9 571L3354.5 572.5L3354.5 572.5ZM3365.8 572.5L3365.8 572.5L3370.2 570.7L3376.2 570.7L3377.1 572.5L3377.1 572.5ZM3394.9 572.5V571H3400.9V572.5Z" fill="#66BD63" shape-rendering="crispEdges"/>
<rect x="458" y="572" width="3096" height="1" fill="#000"/>
<text transform="translate(308.2 505.8) scale(1 1.04)" font-size="36.67" text-anchor="middle" fill="#1A1A1A">1 PF</text>
<path d="M600 750.5L600 750.5L600.2 738.5L601.8 734.4L604.1 734.4L608.7 730L611.7 729.4L613.5 723.6L614.5 723.6L614.9 724.8L616.7 715.6L618.6 714.4L620.2 704.1L621.8 692.2L623.1 687.3L624.1 687.3L625.2 689.2L627.1 697.2L628.9 708.7L631 704.8L633.3 703.6L635.1 691.5L637.4 674.2L639.3 658.2L640.6 645.5L641.5 626L642.5 626L643.4 637.5L645 644.4L645.9 622.6L646.9 622.6L647.5 636.3L648.4 630.1L649.4 630.1L650.3 652.4L651.8 642.1L652.8 642.1L653 665.1L654.9 681.1L656.5 696.1L658.1 715.6L659.5 731.7L661.5 738.5L663.8 742.7L669.1 742L670.1 742L674.2 743.8L679.2 745.9L692.5 746.6L697.1 747L698.9 745.9L699.9 745.9L701.7 746.4L705.2 748.7L706.8 750.5L706.8 750.5ZM709.1 750.5L709.1 750.5L709.8 748.2L719.4 748.2L721.9 750.5L721.9 750.5ZM727 750.5L727 750.5L729.9 747.3L730.9 747.3L732.7 748.9L740.8 748.9L741.9 750.5L741.9 750.5ZM750 750.5L750 750.5L751.1 748.9L758 748.4L761.4 746.1L762.4 746.1L763.7 748.2L769.5 748.2L775.2 749.6L775.5 750.5L775.5 750.5ZM785.6 750.5L785.6 750.5L786.7 748.9L792.4 748.9L795.4 747L796.4 747L798.6 747.3L800 750.5L800 750.5ZM803.2 750.5L803.2 750.5L806.2 746.4L810.8 746.4L815.4 747.7L818.9 750.5L818.9 750.5ZM820 750.5L820 750.5L820 749L823 748.4L826.9 747.2L827.9 747.2L833.4 747.5L839.3 748.7L846.8 748.4L847.8 747.2L848.8 747.2L851.2 748.7L854.2 750.5L854.2 750.5ZM863.8 750.5V749.1H867V750.5ZM871.2 750.5L871.2 750.5L874.6 748.1L875.6 748.1L879.5 749L882 747.5L883 747.5L887 748.1L889.9 749L894.4 749L896.8 747.5L901.3 746.9L902.3 746.9L907.8 747.8L910.8 749L913.8 747.8L920.1 746.3L921.1 746.3L924.2 747.8L926.2 750.5L926.2 750.5ZM930.7 750.5L930.7 750.5L934.1 746.9L935.1 746.9L937.6 748.1L940.5 750.5L940.5 750.5ZM962.9 750.5V749H968.8V750.5ZM973.3 750.5V749H982.2V750.5ZM986.1 750.5V749H997.1V750.5ZM1009 750.5V749H1014.9V750.5ZM1018.5 750.5L1018.5 750.5L1022.4 748.4L1027.8 747.8L1028.8 747.8L1034.3 748.4L1035.8 750.5L1035.8 750.5ZM1040.2 750.5L1040.2 750.5L1043.2 748.7L1050.2 748.1L1051.2 748.1L1055.1 749L1062.6 749L1066.5 747.8L1067.5 747.8L1071.5 748.7L1075.4 748.1L1079.9 746.3L1080.9 746.3L1083.4 747.5L1086.4 748.7L1090.8 748.1L1098.3 748.1L1101.2 749L1108.1 749L1108.7 750.5L1108.7 750.5ZM1126 750.5L1126 750.5L1129.5 747.5L1133.1 747.5L1136.1 750.5L1136.1 750.5ZM1142.9 750.5V749H1154.8V750.5ZM1165.8 750.5L1165.8 750.5L1169.2 748.4L1170.2 748.4L1174.2 749L1175.1 750.5L1175.1 750.5ZM1208.4 750.5L1208.4 750.5L1212.9 747.8L1218.8 747.8L1220.3 749L1224.2 749L1226.2 747.8L1230.7 747.8L1232.2 749L1235.8 749L1236.4 750.5L1236.4 750.5ZM1241.1 750.5L1241.1 750.5L1245.1 748.4L1246.1 748.4L1248.6 749L1256 749L1257 748.4L1258 748.4L1262 749L1262.9 750.5L1262.9 750.5ZM1266.4 750.5V749.1H1278.3V750.5ZM1280.7 750.5L1280.7 750.5L1284.3 747.8L1291.2 746.9L1292.2 746.9L1296.2 747.8L1302.1 748.4L1305.1 749L1308.1 746.3L1312.6 744.2L1316.5 743.6L1317.5 743.6L1320 745.7L1322.5 743.6L1323.5 743.6L1325.4 746.3L1328.9 745.1L1331.9 738.3L1334.9 729.4L1337.9 721.9L1340.8 714.5L1343 710L1344 710L1345.3 717.5L1346.8 724.9L1348.1 721.9L1349.1 721.9L1351.2 727.3L1354.2 728.5L1357.2 729.4L1358.8 723.4L1359.8 723.4L1361.7 724.3L1363 716.6L1364 716.6L1367.6 718.1L1371.2 719.8L1373.6 723.4L1375.7 730.9L1378 736.8L1380.1 739.8L1383.1 736.8L1385 731.4L1386 731.4L1388.5 732.9L1391.4 737.4L1393.8 742.2L1396.8 746.3L1400.4 746.3L1402.8 745.1L1403.8 745.1L1406.3 746.6L1409.3 748.1L1414.6 748.7L1415.2 750.5L1415.2 750.5ZM1419.7 750.5L1419.7 750.5L1421.3 747.5L1422.3 747.5L1424.2 749L1427.1 750.5L1427.1 750.5ZM1432.5 750.5V748.8H1444.4V750.5ZM1451 750.5L1451 750.5L1455.4 747.5L1461.8 745.7L1462.8 745.7L1467.3 746.9L1470.3 748.7L1471.8 750.5L1471.8 750.5ZM1477.1 750.5L1477.1 750.5L1480.2 748.4L1481.2 748.4L1484.3 750.5L1484.3 750.5ZM1488.2 750.5V748.8H1494.1V750.5ZM1498 750.5L1498 750.5L1501 747.8L1502 747.8L1504.5 748.7L1509.9 749L1510.5 750.5L1510.5 750.5ZM1520 750.5V749.4H1538.5V750.5ZM1539.3 750.5L1539.3 750.5L1541.4 747.5L1543.3 745.7L1544.3 745.7L1546.2 747.8L1548.3 750.5L1548.3 750.5ZM1552.1 750.5L1552.1 750.5L1557.2 748.1L1561.2 747.2L1562.2 747.2L1564 748.7L1566.1 750.5L1566.1 750.5ZM1567.6 750.5L1567.6 750.5L1570.1 748.1L1571.1 748.1L1575.1 748.7L1581 749L1581.6 750.5L1581.6 750.5ZM1589.9 750.5L1589.9 750.5L1593.9 747.2L1594.9 747.2L1598.9 748.4L1600.4 750.5L1600.4 750.5ZM1606.9 750.5V749.1H1610.8V750.5ZM1619.7 750.5V749.1H1624.2V750.5ZM1629.5 750.5V749.1H1634.6V750.5ZM1645 750.5V749.1H1648.9V750.5ZM1680.1 750.5V749H1689.6V750.5ZM1710.5 750.5V749.1H1712.9V750.5ZM1738.2 750.5L1738.2 750.5L1742.1 747.2L1743.1 747.2L1746.2 748.7L1747.7 750.5L1747.7 750.5ZM1753 750.5L1753 750.5L1756.1 747.8L1757.1 747.8L1761.1 749L1761.7 750.5L1761.7 750.5ZM1767 750.5L1767 750.5L1771 747.5L1772 747.5L1775.4 748.7L1776 750.5L1776 750.5ZM1783.4 750.5L1783.4 750.5L1787.9 748.7L1792.3 747.5L1795.3 746.3L1800.8 745.7L1801.8 745.7L1805.7 746.3L1810.2 745.7L1816.1 745.7L1819.1 748.1L1821.2 749L1825.1 749L1826.5 748.1L1834 748.1L1835.5 748.7L1837 746.9L1841.4 746.3L1844.4 746.3L1847.4 744.8L1851.8 742.2L1856.3 742.2L1859.3 742.8L1860.3 740.7L1861.3 740.7L1862.3 743.4L1864.7 741.3L1865.7 741.3L1866.7 743.4L1868.2 738.3L1871.2 729.4L1874.2 726.4L1877.1 724L1879.2 714.5L1881.6 710L1883.2 708.5L1884.2 708.5L1885.5 713L1887.6 724.9L1889.6 736.8L1891.4 745.7L1892.6 748.1L1895 745.7L1898 741.3L1899.9 739.8L1900.9 739.8L1903.9 743.4L1906.3 744.2L1909.9 742.2L1912.9 739.2L1915.2 738.3L1916.8 734.4L1917.8 734.4L1919.4 739.2L1922.4 740.7L1924.2 744.2L1927.7 742.2L1930.7 742.2L1933.7 744.2L1936.7 744.8L1939.6 747.2L1942.6 748.7L1945.6 746.9L1949.6 745.7L1950.6 745.7L1953 747.2L1955.5 746.3L1956.5 746.3L1959 747.2L1960.5 736.8L1963.5 724.9L1965.8 714.5L1967.4 709.4L1968.4 709.4L1970.3 710L1972.4 717.5L1974.8 732.3L1976.8 741.3L1979.8 747.2L1982.8 748.7L1987.3 748.7L1990.2 745.1L1993.2 743.4L1995.1 741.3L1996.1 741.3L1998.6 744.2L2002.1 745.1L2005.1 746.6L2009.6 744.2L2014 743.4L2017 741.3L2020.1 739.8L2021.1 739.8L2024.5 742.2L2027.4 744.2L2030.4 746.3L2033.4 748.7L2037.9 748.1L2040.3 747.2L2041.3 747.2L2043.8 748.7L2044.7 750.5L2044.7 750.5ZM2050.4 750.5L2050.4 750.5L2050.7 748.7L2058.1 748.7L2061.1 748.1L2065.2 748.1L2066.1 750.5L2066.1 750.5ZM2073 750.5V749.1H2078.9V750.5ZM2083.1 750.5L2083.1 750.5L2094.4 748.7L2096.9 748.1L2097.9 748.1L2101 748.7L2101.8 750.5L2101.8 750.5ZM2106.9 750.5L2106.9 750.5L2109.3 748.1L2113.8 748.1L2114.3 750.5L2114.3 750.5ZM2126.5 750.5L2126.5 750.5L2130.1 748.7L2140.5 748.7L2143 748.1L2144 748.1L2146.5 748.7L2162.3 749L2162.9 750.5L2162.9 750.5ZM2168.8 750.5V749.4H2173.9V750.5ZM2188.2 750.5L2188.2 750.5L2189.1 748.1L2190.1 748.1L2192.6 748.7L2210.5 748.7L2213.5 749L2220 749L2220 750.5L2220 750.5ZM2249.8 750.5L2249.8 750.5L2252.7 747.8L2255.2 746.9L2256.2 746.9L2258.7 748.4L2260.2 750.5L2260.2 750.5ZM2267.6 750.5L2267.6 750.5L2271.6 748.1L2272.6 748.1L2275.1 749L2282.5 748.7L2285.5 747.2L2295.9 747.2L2296.8 748.7L2299.8 748.7L2300.4 750.5L2300.4 750.5ZM2309.9 750.5V749.1H2314.6V750.5ZM2320.3 750.5V749.1H2325.7V750.5ZM2331 750.5L2331 750.5L2339 748.7L2342 747.5L2344.5 746.6L2345.5 746.6L2349.5 747.8L2356.9 748.7L2357.8 750.5L2357.8 750.5ZM2361.4 750.5L2361.4 750.5L2365.8 748.1L2368.9 746.3L2369.9 746.3L2373.3 747.5L2375.4 749L2376.2 750.5L2376.2 750.5ZM2381.6 750.5L2381.6 750.5L2385.2 748.1L2388.5 746.6L2389.5 746.6L2392 746.9L2394.1 749L2398.6 749L2400.5 748.1L2401.5 748.1L2402.1 749L2406 748.1L2410.5 748.1L2412 746.3L2415.3 744.2L2416.3 744.2L2418.8 746.3L2420.9 750.5L2420.9 750.5ZM2428.9 750.5L2428.9 750.5L2432.3 748.1L2433.3 748.1L2434.9 749L2437.9 750.5L2437.9 750.5ZM2449.8 750.5L2449.8 750.5L2455.1 748.1L2460 747.2L2461 747.2L2463.5 748.7L2470 748.7L2471 747.2L2472 747.2L2473 748.1L2474.9 747.2L2475.9 747.2L2477.4 748.7L2479.8 750.5L2479.8 750.5ZM2484 750.5V749.1H2489.9V750.5ZM2507.2 750.5L2507.2 750.5L2510.2 748.1L2514 748.1L2515.2 750.5L2515.2 750.5ZM2519.1 750.5V749.1H2523.6V750.5ZM2537.9 750.5V749.1H2543.8V750.5ZM2603 750.5V749.1H2609V750.5ZM2616.4 750.5V749.1H2619.7V750.5ZM2626.8 750.5L2626.8 750.5L2630.8 748.1L2631.8 748.1L2636.7 749L2637.3 750.5L2637.3 750.5ZM2684.9 750.5L2684.9 750.5L2688.8 747.5L2692.7 747.2L2693.7 747.2L2696.2 748.4L2703.6 748.7L2704.2 750.5L2704.2 750.5ZM2711.7 750.5L2711.7 750.5L2715.5 746.9L2721 746.3L2722 746.3L2725.4 748.1L2728.3 750.5L2728.3 750.5ZM2735.8 750.5V749.1H2740.8V750.5ZM2742.3 750.5L2742.3 750.5L2746.2 748.1L2751.2 748.1L2752.1 750.5L2752.1 750.5ZM2757.2 750.5L2757.2 750.5L2759.7 748.4L2760.7 748.4L2769.1 748.7L2769.7 744.2L2775.1 744.2L2776.5 747.2L2778.9 747.2L2782.6 743.1L2783.6 743.1L2787 747.2L2789.3 750.5L2789.3 750.5ZM2795.9 750.5L2795.9 750.5L2798.9 747.2L2802.2 746.6L2803.2 746.6L2806.3 747.5L2811.8 746.6L2812.8 746.6L2818.2 747.2L2822.7 747.5L2826.5 747.5L2827.1 744.8L2830.1 744.8L2832.5 747.2L2835.5 750.5L2835.5 750.5ZM2845 750.5L2845 750.5L2846.5 746.3L2852.4 746.3L2858.4 747.2L2862.9 749L2863.5 750.5L2863.5 750.5ZM2868.8 750.5V749.1H2883.1V750.5ZM2886.7 750.5L2886.7 750.5L2893.6 747.8L2894.6 747.8L2898.6 748.7L2906 749L2906.6 750.5L2906.6 750.5ZM2913.5 750.5L2913.5 750.5L2917.4 748.1L2918.4 748.1L2920 748.7L2920 750.5L2920 750.5ZM2900 750.5V749.1H2906V750.5ZM2913.4 750.5L2913.4 750.5L2916.8 747.8L2917.8 747.8L2921.4 749L2922.3 750.5L2922.3 750.5ZM2940.8 750.5L2940.8 750.5L2942.7 748.1L2943.7 748.1L2946.1 749L2950.6 749L2953.1 747.8L2954.1 747.8L2958 748.7L2961 747.8L2963.5 747.2L2964.5 747.2L2967 748.1L2971.4 748.4L2975.9 749L2977.5 747.2L2978.5 747.2L2980.4 749L2986.3 749L2989.3 747.5L2992.3 747.5L2993.8 749L3004.2 749L3007.1 747.2L3010.2 746.3L3011.2 746.3L3014.6 747.2L3017.6 749L3018.2 750.5L3018.2 750.5ZM3025.9 750.5L3025.9 750.5L3028.6 747.5L3032.4 747.5L3035.4 748.7L3044.3 749L3046.8 747.8L3047.8 747.8L3050.3 748.7L3051.2 750.5L3051.2 750.5ZM3056.2 750.5L3056.2 750.5L3060.7 748.1L3062.6 747.5L3063.6 747.5L3065.2 748.4L3068.2 749L3068.8 750.5L3068.8 750.5ZM3072.6 750.5L3072.6 750.5L3077.1 748.1L3083 748.1L3084.5 749L3089 749L3092.4 746.3L3093.4 746.3L3095.8 748.4L3108.3 749L3108.9 750.5L3108.9 750.5ZM3111.9 750.5L3111.9 750.5L3118.8 748.4L3123.2 747.8L3130.2 747.2L3131.2 747.2L3135.1 747.8L3138.1 747.2L3141.1 741.3L3144 739.2L3147 737.4L3150 733.2L3152.5 729.4L3153.5 729.4L3155.4 731.4L3157.4 736.8L3159.5 741.3L3161 743.6L3162.8 741.3L3164.9 739.8L3167 733.8L3168.8 716L3170.8 696.6L3172.9 686.2L3173.9 679.4L3174.9 679.4L3176.2 687.7L3178.3 695.1L3180.4 710L3182.7 721.9L3184.8 735.3L3187.2 741.3L3189.3 742.8L3191.1 735.3L3193.2 721.9L3194.1 720.4L3195.1 720.4L3196.7 724.9L3199.1 732.3L3202.1 738.3L3205.1 739.8L3207.1 745.7L3210.1 745.7L3212.5 742.2L3215 741.3L3216 741.3L3217.9 744.2L3219.9 748.1L3222.9 748.1L3225.4 747.2L3226.4 747.2L3228.9 749L3229.8 750.5L3229.8 750.5ZM3242.3 750.5V749.1H3245.8V750.5ZM3258 750.5L3258 750.5L3261.6 748.7L3269 748.7L3273.5 747.5L3279.5 747.5L3282.4 748.7L3286.4 748.4L3287.4 748.4L3292.3 749L3292.9 750.5L3292.9 750.5ZM3298.8 750.5L3298.8 750.5L3301.9 747.5L3302.9 747.5L3305.4 749L3316.7 749L3319.1 747.5L3320.1 747.5L3322.6 748.7L3324.1 750.5L3324.1 750.5ZM3333 750.5V749.1H3350V750.5ZM3392.6 750.5L3392.6 750.5L3397 747.8L3401 745.1L3402 745.1L3404.5 747.8L3406.5 750.5L3409.5 748.7L3411.4 747.2L3412.4 747.2L3412.8 750.5L3412.8 750.5Z" fill="#1A9850" shape-rendering="crispEdges"/>
<rect x="458" y="750" width="3096" height="1" fill="#000"/>
<text transform="translate(308.2 683.8) scale(1 1.04)" font-size="36.67" text-anchor="middle" fill="#1A1A1A">6 PF</text>
<path d="M598.8 928.5L598.8 928.5L599.1 915.4L600.6 914.2L601.6 914.2L604.1 915.4L605.7 913.1L607.6 902.8L609.9 898.6L615.6 898.6L617.9 891.3L620.2 878.6L622.5 863.7L624.7 850.4L625.7 850.4L627.1 871.8L628.9 877L631.2 877L632.8 867.2L635.1 852.2L637.4 832.7L639.7 809.7L642 787.9L643.1 779.9L644.1 779.9L645 807.5L647.1 815.5L648.9 822.4L650.2 817.8L651.2 817.8L652.3 819.4L653.5 832.7L654.9 848.8L656.5 867.2L658.1 891.3L659.7 909.7L661.5 916.5L663.1 921.1L673 921.4L675.3 924.1L681.1 924.1L683.4 925L686.1 924.1L689.7 923.2L690.7 923.2L693.7 926.2L696.7 926.2L697.6 925L702.9 925L705.2 926.9L710.9 926.9L711.1 928.5L711.1 928.5ZM715.5 928.5L715.5 928.5L715.7 926.9L718 925L719 925L720.6 925.7L724.2 928.5L724.2 928.5ZM728.8 928.5L728.8 928.5L729.3 926.9L732.9 926.2L733.9 926.2L736.2 928.5L736.2 928.5ZM738.9 928.5L738.9 928.5L740.8 926.2L743 925L744 925L745.4 925.7L749.5 925.7L751.1 926.9L754.6 926.9L755.2 926.2L756.2 926.2L758.7 926.9L759.8 928.5L759.8 928.5ZM768.8 928.5V927.1H775.9V928.5ZM786.2 928.5L786.2 928.5L786.5 926.9L793.6 926.9L794.2 926L795.2 926L795.9 926.9L802.8 926.9L803.2 925L810.8 925L811.9 924.1L812.9 924.1L815.4 925.7L817.7 926.9L820 926.9L820 928.5L820 928.5ZM828.9 928.5V927.1H831.9V928.5ZM842.3 928.5L842.3 928.5L846.3 925.5L847.3 925.5L849.8 926.4L854.2 927L855.1 928.5L855.1 928.5ZM862.3 928.5V927.1H867V928.5ZM872.1 928.5L872.1 928.5L887 926.7L888.5 925.5L889.5 925.5L891.4 927L896.8 926.7L898 924.6L901.8 924.3L906.3 924.3L908.7 926.1L918.2 926.7L921.3 925.2L922.3 925.2L924.2 927L937.6 927L938.2 928.5L938.2 928.5ZM945 928.5V927.1H962V928.5ZM972.7 928.5V927.1H977.7V928.5ZM982.2 928.5L982.2 928.5L986.8 925.5L987.8 925.5L989 926.7L995.1 926.1L996.1 926.1L997.1 927L1009.6 927L1010.5 928.5L1010.5 928.5ZM1014 928.5L1014 928.5L1022.4 926.7L1026.3 924.6L1027.3 924.6L1029.8 926.7L1043.2 926.7L1046.2 926.1L1053.6 926.1L1058.1 926.7L1060.5 925.2L1063.5 923.7L1064.5 923.7L1068.5 924.9L1073 925.2L1074.5 927L1076.5 927L1078.3 925.2L1082.9 924.6L1083.9 924.6L1087.9 925.2L1089.3 928.5L1089.3 928.5ZM1097.4 928.5L1097.4 928.5L1100.4 925.5L1105.2 925.2L1106.2 925.2L1108.7 927L1110.2 928.5L1110.2 928.5ZM1115.5 928.5L1115.5 928.5L1120.1 925.2L1121.1 925.2L1125.1 926.1L1126.5 927L1163.8 927L1164.3 928.5L1164.3 928.5ZM1166.7 928.5L1166.7 928.5L1169.2 924.9L1170.2 924.9L1174.2 925.5L1178.6 926.7L1196.5 926.7L1198.1 925.2L1199.1 925.2L1202.4 926.7L1203.9 928.5L1203.9 928.5ZM1208.4 928.5L1208.4 928.5L1210.9 926.4L1211.9 926.4L1215.8 927L1216.4 928.5L1216.4 928.5ZM1231.6 928.5V927.1H1243.2V928.5ZM1247.1 928.5V927.1H1259.9V928.5ZM1265.5 928.5L1265.5 928.5L1279.8 926.7L1281.3 925.2L1289.7 924.9L1290.7 924.9L1293.8 926.1L1296.2 926.1L1297.1 924L1301.6 923.4L1302.6 923.4L1305.1 924.6L1308.1 923.7L1314 923.7L1316.4 926.1L1320 922.5L1323.6 918.7L1326.9 917.8L1327.9 917.8L1330.4 920.2L1332.5 915.7L1335.5 911.2L1337.3 899.3L1339.3 888.9L1341.4 883L1343.2 872.5L1344.8 871.1L1345.8 871.1L1347.4 875.5L1349.8 881.5L1351.8 890.4L1354.2 893.4L1355.7 899.3L1357.2 904.7L1361.7 904.7L1362.7 901.4L1363.7 901.4L1365.2 903.8L1366.5 900.8L1367.5 900.8L1369.1 901.7L1370.7 896.9L1371.7 896.9L1373.6 901.7L1375.7 908.3L1378 914.2L1384 914.8L1387 918.7L1389.9 920.2L1392.9 922.2L1403.3 922.5L1406.3 926.1L1407.8 928.5L1407.8 928.5ZM1412.3 928.5L1412.3 928.5L1414.7 926.4L1415.7 926.4L1421.2 927L1421.8 928.5L1421.8 928.5ZM1425.7 928.5L1425.7 928.5L1430.1 926.1L1433.1 924.6L1435.6 923.4L1436.6 923.4L1439 925.2L1442 926.7L1445 926.1L1446.9 925.2L1447.9 925.2L1449.5 926.7L1456.9 927L1460.9 926.4L1461.9 926.4L1465.2 928.5L1465.2 928.5ZM1468.8 928.5V927.1H1474.8V928.5ZM1478.6 928.5L1478.6 928.5L1482.2 925.5L1486.7 924.3L1491.1 923.7L1492.7 922.5L1493.7 922.5L1495.6 924.3L1498.6 923.7L1502.5 922.5L1503.5 922.5L1506 924.3L1510.5 924.6L1514.9 925.2L1517.9 927L1519.4 928.5L1519.4 928.5ZM1520 928.5L1520 928.5L1520 927L1525.5 926.4L1526.5 926.4L1530.4 927L1534.9 927L1537.4 926.1L1538.4 926.1L1541.4 928.5L1541.4 928.5ZM1552.1 928.5L1552.1 928.5L1559.7 926.4L1560.7 926.4L1564.6 927L1570.1 926.4L1571.1 926.4L1573.6 927L1582.5 927L1583.1 928.5L1583.1 928.5ZM1589.9 928.5V927.1H1605.7V928.5ZM1615.2 928.5V927.1H1635.5V928.5ZM1647.1 928.5V927.1H1651.8V928.5ZM1659.9 928.5V927.1H1664.9V928.5ZM1697.1 928.5V927.1H1704.5V928.5ZM1715.8 928.5V927.1H1721.8V928.5ZM1735.2 928.5L1735.2 928.5L1755.1 926.7L1763.5 926.1L1764.5 926.1L1767 927L1769.5 926.4L1770.5 926.4L1773 927L1783.4 927L1784.9 926.4L1791.4 926.4L1792.3 927L1796.2 927L1798.3 925.2L1801.3 923.1L1802.3 923.1L1805.7 924.6L1808.7 926.1L1811.1 925.5L1812.7 924.3L1813.7 924.3L1816.1 926.1L1817 928.5L1817 928.5ZM1823 928.5L1823 928.5L1828 925.5L1833.1 925.5L1834 927L1836.1 927L1836.7 928.5L1836.7 928.5ZM1844.4 928.5L1844.4 928.5L1846.9 926.4L1847.9 926.4L1849.8 927L1851.8 925.5L1857.8 925.5L1859.3 926.1L1863.8 925.2L1868.2 924.3L1870.6 922.5L1872.7 917.2L1874.8 912.7L1877.1 908.3L1878 897.8L1880.1 897.8L1881.6 900.8L1882.6 899.3L1883.6 899.3L1884.6 906.8L1886.7 911.2L1888.5 912.7L1890.5 921.6L1892 925.5L1896.5 925.2L1901 923.7L1904.9 922.8L1905.9 922.8L1908.4 924.3L1912.9 924.3L1917.3 925.2L1920.3 926.7L1924.8 926.7L1926.2 925.2L1931.7 924.6L1932.7 924.6L1935.2 926.1L1936.7 927L1950.1 927L1950.7 928.5L1950.7 928.5ZM1958.1 928.5L1958.1 928.5L1960.5 923.1L1963.5 917.2L1966.4 912.7L1968.9 911.2L1969.9 911.2L1972.4 912.7L1974.5 918.7L1976.2 923.1L1978.3 925.5L1996.2 925.5L1999.2 924.6L2001.6 924L2002.6 924L2005.1 926.1L2008.1 927L2011.7 927L2014 924.6L2019.5 924L2020.5 924L2026 924.6L2030.4 926.1L2031.9 927L2039.3 927L2039.9 928.5L2039.9 928.5ZM2040.8 928.5L2040.8 928.5L2041.1 927L2054.2 927L2055.7 926.4L2056.7 925.5L2057.7 925.5L2059.3 927L2061.2 926.4L2062.2 926.4L2063.2 927L2076 927L2076.5 928.5L2076.5 928.5ZM2077.4 928.5V927.1H2082.5V928.5ZM2087.6 928.5V927.1H2092.9V928.5ZM2095 928.5L2095 928.5L2112.3 926.7L2113.2 925.2L2114.2 925.2L2118.2 926.1L2124.2 926.7L2127.1 925.5L2131.6 925.5L2134.6 927L2135.5 928.5L2135.5 928.5ZM2147.1 928.5V927.1H2151.5V928.5ZM2155.4 928.5V927.1H2164.9V928.5ZM2173.9 928.5V927.1H2180.1V928.5ZM2199.2 928.5L2199.2 928.5L2201 926.1L2202 926.1L2206 926.4L2214.9 926.7L2217.9 926.1L2220 926.1L2220 928.5L2220 928.5ZM2220 928.5V927.1H2224.5V928.5ZM2228 928.5V927.1H2231V928.5ZM2243.8 928.5V927.1H2248.9V928.5ZM2259.6 928.5V927.1H2266.1V928.5ZM2273 928.5V927.1H2278V928.5ZM2284.9 928.5V927.1H2287.9V928.5ZM2298.9 928.5V927.1H2304.8V928.5ZM2307.8 928.5V927.1H2313.8V928.5ZM2319.1 928.5V927.1H2324.8V928.5ZM2330.7 928.5V927.1H2338.2V928.5ZM2362.9 928.5V927.1H2368.8V928.5ZM2370.3 928.5L2370.3 928.5L2370.6 926.7L2389.6 926.7L2391.1 925.2L2397.7 925.2L2399.2 926.4L2403 926.4L2406 925.2L2410.5 925.2L2412.9 927L2413.5 928.5L2413.5 928.5ZM2417 928.5V927.1H2423V928.5ZM2431.3 928.5V927.1H2441.1V928.5ZM2443.2 928.5V927.1H2459.6V928.5ZM2467 928.5V927.1H2470.9V928.5ZM2478.9 928.5V927.1H2489.9V928.5ZM2496.2 928.5L2496.2 928.5L2499.3 926.4L2500.3 926.4L2502.7 926.7L2514.6 927L2515.2 928.5L2515.2 928.5ZM2585.2 928.5L2585.2 928.5L2587.6 926.4L2594.4 926.4L2595.6 927L2603 927L2603.6 928.5L2603.6 928.5ZM2639.6 928.5V927.1H2659.9V928.5ZM2702.1 928.5V927.1H2711.1V928.5ZM2728.9 928.5V927.1H2739.9V928.5ZM2754.2 928.5V927.1H2767V928.5ZM2795.9 928.5L2795.9 928.5L2799.9 925.5L2800.9 925.5L2803.9 926.7L2813.8 926.7L2816.7 925.2L2821.3 924.3L2822.3 924.3L2824.2 925.2L2827.1 923.1L2829.6 922.5L2830.6 922.5L2833.1 925.2L2834 928.5L2834 928.5ZM2839 928.5L2839 928.5L2842 923.7L2846 921.4L2847 921.4L2850.4 922.5L2853.9 924.6L2856.9 926.4L2863.5 927L2864 928.5L2864 928.5ZM2877.1 928.5V927.1H2888.2V928.5ZM2895 928.5V927.1H2905.4V928.5ZM2911.1 928.5L2911.1 928.5L2913.5 926.4L2914.5 926.4L2920 927L2920 928.5L2920 928.5ZM2900 928.5V927.1H2904.5V928.5ZM2911 928.5L2911 928.5L2914.4 926.4L2915.4 926.4L2917.9 928.5L2917.9 928.5ZM2928.9 928.5L2928.9 928.5L2929.2 926.7L2944.6 926.7L2946.2 925.5L2947.2 925.5L2950 927L2950.6 928.5L2950.6 928.5ZM2966.1 928.5V927.1H2973.8V928.5ZM2980.4 928.5L2980.4 928.5L2980.7 926.7L2992.9 926.7L2994.6 925.2L3010.1 925.2L3012.2 926.7L3031 926.7L3031.9 925.5L3032.9 925.5L3036.9 926.1L3039 928.5L3039 928.5ZM3042.3 928.5V927.1H3046.7V928.5ZM3056.2 928.5V927.1H3065.8V928.5ZM3072.6 928.5V927.1H3080.1V928.5ZM3081 928.5L3081 928.5L3084.5 925.5L3089 924L3097.9 924L3100 926.1L3105.4 925.2L3112.8 924.6L3120.2 923.7L3125.7 923.1L3126.7 923.1L3128.6 925.2L3131.5 922.5L3135.1 919.6L3139.6 918.7L3140.6 917.2L3141.6 917.2L3144 918.1L3148.5 916.3L3151 914.2L3152 914.2L3154.5 917.2L3157.4 920.2L3161.3 923.1L3163.4 924L3165.8 917.2L3167.9 896.4L3169.9 878.5L3172.3 864.2L3173.9 862.4L3174.9 862.4L3176.8 868.1L3178.9 871.1L3180.7 885.9L3182.7 899.3L3184.2 912.7L3187.2 914.8L3190.2 911.2L3192.7 905.9L3193.7 905.9L3196.1 907.7L3198.5 914.2L3201.2 920.8L3203.1 918.7L3204.1 918.7L3207.1 920.8L3211 924.6L3215.5 925.5L3219.4 924L3220.4 924L3222.9 925.2L3224.5 924L3225.5 924L3227.4 926.1L3230.4 928.5L3230.4 928.5ZM3233.3 928.5L3233.3 928.5L3236.3 926.1L3242.3 924.3L3248.2 924.3L3252.7 925.5L3255.7 927L3257.1 928.5L3257.1 928.5ZM3272.9 928.5L3272.9 928.5L3273.2 927L3286.9 927L3287.9 926.1L3288.9 926.1L3290.5 927L3299.7 927L3300.3 928.5L3300.3 928.5ZM3303.9 928.5L3303.9 928.5L3308.7 925.2L3309.7 925.2L3313.7 926.4L3315.2 927L3352.4 927L3353 928.5L3353 928.5ZM3361.9 928.5V927.1H3375.3V928.5ZM3386.6 928.5V927.1H3397V928.5Z" fill="#8C510A" shape-rendering="crispEdges"/>
<rect x="458" y="928" width="3096" height="1" fill="#000"/>
<text transform="translate(308.2 861.8) scale(1 1.04)" font-size="36.67" text-anchor="middle" fill="#1A1A1A">2 Div Fibro</text>
<path d="M600 1106.5L600 1106.5L600.2 1101.4L604.6 1101.4L606.4 1096.8L608.2 1091.8L609.9 1084.9L611.7 1076.2L612.8 1075.5L613.8 1075.5L616.3 1076.6L617.9 1067L619.5 1057.8L621.3 1034.8L622.4 1024.5L623.4 1024.5L625.2 1029.1L626.6 1039.4L628.2 1065.8L630.1 1071.6L631.7 1076.6L633.5 1075L635.1 1064.7L637 1041.7L638.6 1017.6L640.2 999.2L642 982L643.1 969.4L644.1 969.4L645 984.3L647.8 987.7L651.2 992.3L652.3 1005L654 1021.1L655.3 1044L656.9 1062.4L658.5 1083.1L660.4 1096.8L662.2 1102.6L663.1 1104.2L666.1 1103.3L668.6 1102.1L669.6 1102.1L671.9 1103.7L674.2 1104.9L676.5 1104.2L681.1 1104.2L682.7 1106.5L682.7 1106.5ZM687.5 1106.5L687.5 1106.5L690.2 1103.3L694.1 1103.3L696 1104.9L704.5 1104.9L705.2 1106.5L705.2 1106.5ZM711.4 1106.5L711.4 1106.5L711.6 1104.9L713.9 1104.9L713.9 1104.2L714.9 1104.2L715.5 1104.9L717.8 1104.9L718 1106.5L718 1106.5ZM721.2 1106.5V1105.1H730.4V1106.5ZM730.4 1106.5L730.4 1106.5L730.7 1104.9L731.1 1104.2L736.2 1104.2L737.3 1104.9L740.1 1104.9L740.3 1104.2L741.3 1104.2L741.9 1104.9L747.7 1104.9L748.8 1106.5L748.8 1106.5ZM750.4 1106.5L750.4 1106.5L750.6 1104.9L752.3 1104.2L755.7 1103.3L759.1 1103.3L761.4 1104.7L763.1 1106.5L763.1 1106.5ZM767.2 1106.5L767.2 1106.5L767.4 1104.9L770.1 1104.2L771.1 1104.2L774.1 1104.9L775.2 1106.5L775.2 1106.5ZM781 1106.5V1105.1H786.7V1106.5ZM799.3 1106.5V1105.1H802.8V1106.5ZM812 1106.5V1105.1H820V1106.5ZM820 1106.5L820 1106.5L820 1105L824 1104.7L825 1104.7L828.3 1105L828.9 1106.5L828.9 1106.5ZM875.1 1106.5L875.1 1106.5L876.6 1104.1L877.6 1104.1L881 1105L881.9 1106.5L881.9 1106.5ZM895.9 1106.5L895.9 1106.5L898.9 1103.5L906.3 1103.5L909.3 1104.4L915.8 1104.7L917 1106.5L917 1106.5ZM924.2 1106.5L924.2 1106.5L925.7 1104.1L931.6 1104.1L933.1 1105L947.4 1105L948 1106.5L948 1106.5ZM951.8 1106.5V1105.1H954.8V1106.5ZM964.9 1106.5V1105.1H968.8V1106.5ZM1056 1106.5V1105.1H1061.7V1106.5ZM1069.4 1106.5L1069.4 1106.5L1073 1103.5L1078.9 1103.5L1081.9 1104.1L1084.4 1103.2L1085.4 1103.2L1089.3 1104.1L1092.3 1105L1092.9 1106.5L1092.9 1106.5ZM1094.4 1106.5L1094.4 1106.5L1094.7 1104.7L1113.2 1104.7L1114.1 1104.1L1115.1 1104.1L1116.1 1104.7L1116.7 1106.5L1116.7 1106.5ZM1124.2 1106.5V1105.1H1140.8V1106.5ZM1144.4 1106.5V1105.1H1149.8V1106.5ZM1160.2 1106.5V1105.1H1163.8V1106.5ZM1174.2 1106.5V1105.1H1176.5V1106.5ZM1183.1 1106.5L1183.1 1106.5L1187.1 1104.1L1188.1 1104.1L1192 1105L1192.6 1106.5L1192.6 1106.5ZM1197.4 1106.5V1105.1H1201V1106.5ZM1209.3 1106.5L1209.3 1106.5L1212.4 1104.1L1213.4 1104.1L1216.4 1105L1217 1106.5L1217 1106.5ZM1229.2 1106.5V1105.1H1231.6V1106.5ZM1282.2 1106.5L1282.2 1106.5L1294.7 1104.7L1295.7 1103.2L1296.7 1103.2L1299.2 1104.7L1302.1 1104.7L1302.7 1106.5L1302.7 1106.5ZM1305.7 1106.5L1305.7 1106.5L1309.6 1103.5L1311.5 1102.3L1312.5 1102.3L1315.5 1104.1L1318.5 1105L1323 1105L1323.9 1102.3L1333.4 1102.3L1336.4 1099.6L1338.5 1097.3L1340.8 1089.2L1343.3 1082.4L1344.3 1082.4L1346.2 1088.3L1349.2 1095.8L1352.1 1101.1L1354.2 1102.3L1358.7 1101.1L1363.2 1100.8L1365.2 1094.3L1367.7 1085.7L1368.7 1085.7L1372.1 1089.2L1375.1 1093.7L1378 1098.8L1380.4 1100.2L1382.5 1098.2L1387 1098.2L1389.9 1100.2L1392.9 1102.6L1397.4 1103.5L1401.8 1102.9L1405.8 1102.3L1406.8 1102.3L1409.3 1104.1L1410.8 1105L1418.2 1105L1419.7 1104.1L1427.1 1104.1L1428.6 1105L1438.5 1105L1439 1106.5L1439 1106.5ZM1445.9 1106.5L1445.9 1106.5L1448 1104.7L1455.4 1104.7L1456.9 1103.8L1461.4 1103.8L1462.4 1102.9L1463.4 1102.9L1467.3 1103.5L1469.4 1105L1470 1106.5L1470 1106.5ZM1483.7 1106.5V1105.1H1486.7V1106.5ZM1488.2 1106.5V1105.1H1498.6V1106.5ZM1506.6 1106.5L1506.6 1106.5L1509.4 1103.5L1510.4 1103.5L1513.5 1105L1514.9 1106.5L1514.9 1106.5ZM1520 1106.5L1520 1106.5L1520 1105L1524.9 1104.1L1525.9 1104.1L1528.3 1105L1528.9 1106.5L1528.9 1106.5ZM1537.9 1106.5V1105.1H1541.7V1106.5ZM1552.1 1106.5L1552.1 1106.5L1555.8 1103.8L1556.8 1103.8L1560.2 1104.7L1564.6 1105L1565.2 1106.5L1565.2 1106.5ZM1577.1 1106.5V1105.1H1596.8V1106.5ZM1614 1106.5V1105.1H1615.2V1106.5ZM1648 1106.5L1648 1106.5L1653.4 1104.4L1654.4 1104.4L1659.3 1105L1659.9 1106.5L1659.9 1106.5ZM1671.8 1106.5V1105.1H1673.9V1106.5ZM1682.2 1106.5L1682.2 1106.5L1687.7 1104.4L1688.7 1104.4L1694.1 1105L1695 1106.5L1695 1106.5ZM1700.4 1106.5V1105.1H1701.5V1106.5ZM1720 1106.5L1720 1106.5L1730.8 1104.4L1731.8 1104.4L1736.7 1105L1737.3 1106.5L1737.3 1106.5ZM1744.1 1106.5V1105.1H1750.7V1106.5ZM1792.9 1106.5V1105.1H1796.2V1106.5ZM1799.2 1106.5V1105.1H1811.7V1106.5ZM1817 1106.5V1105.1H1823V1106.5ZM1828.9 1106.5V1105.1H1830.1V1106.5ZM1837.9 1106.5L1837.9 1106.5L1841.4 1103.8L1843.3 1103.2L1844.3 1103.2L1846.8 1104.7L1850.4 1104.7L1851.8 1101.7L1854.8 1100.2L1855.7 1097.3L1857.8 1097.3L1859.3 1094.9L1860.9 1093.4L1861.9 1093.4L1862.9 1096.7L1864.6 1097.3L1865.6 1094.9L1866.6 1094.9L1867.6 1098.2L1869.7 1097.3L1872.1 1091.3L1874.8 1088.3L1876.5 1085.4L1878 1069L1880.1 1066L1882.5 1065.4L1883.1 1054.7L1883.7 1054.7L1884.3 1061.6L1886.1 1066L1888.2 1073.5L1889.9 1088.3L1891.4 1101.7L1895 1102.3L1896.5 1098.8L1898.6 1094.3L1900.5 1092.8L1901.5 1092.8L1903.3 1095.8L1905.4 1098.8L1906.9 1103.2L1911.4 1104.1L1914.3 1104.1L1916.8 1102.6L1917.8 1102.6L1920.3 1104.1L1926.2 1104.7L1932.2 1103.5L1936.2 1102.3L1937.2 1102.3L1939.6 1103.5L1945.6 1104.1L1950.1 1104.1L1950.7 1105L1956 1105L1959 1103.5L1963.5 1101.7L1966.4 1099.6L1969.5 1098.2L1970.5 1098.2L1973 1100.2L1976 1102.6L1976.8 1106.5L1976.8 1106.5ZM1985.8 1106.5L1985.8 1106.5L1987.3 1105L1996.2 1105L1997.1 1103.5L2002.1 1103.5L2002.7 1106.5L2002.7 1106.5ZM2007.2 1106.5L2007.2 1106.5L2011.1 1103.8L2015 1102.3L2016 1102.3L2018.5 1102.9L2021.5 1104.7L2023 1106.5L2023 1106.5ZM2054.8 1106.5V1105.1H2058.1V1106.5ZM2087.6 1106.5V1105.1H2090.8V1106.5ZM2098.9 1106.5L2098.9 1106.5L2102.8 1104.4L2103.8 1104.4L2107.8 1105L2108.4 1106.5L2108.4 1106.5ZM2124.8 1106.5V1105.1H2132.2V1106.5ZM2139.9 1106.5V1105.1H2145.9V1106.5ZM2162.9 1106.5V1105.1H2164.9V1106.5ZM2200.7 1106.5V1105.1H2213.5V1106.5ZM2214.9 1106.5V1104.8H2220V1106.5ZM2220 1106.5V1105.1H2224.5V1106.5ZM2231 1106.5V1105.1H2235.8V1106.5ZM2263.8 1106.5V1105.1H2269.1V1106.5ZM2287.9 1106.5V1105.1H2295V1106.5ZM2298 1106.5L2298 1106.5L2301.3 1103.8L2302.3 1103.8L2304.8 1105L2305.4 1106.5L2305.4 1106.5ZM2338.5 1106.5L2338.5 1106.5L2342.4 1104.1L2343.4 1104.1L2348 1105L2348.9 1106.5L2348.9 1106.5ZM2376.8 1106.5V1105.1H2384.3V1106.5ZM2395.6 1106.5V1105.1H2396.8V1106.5ZM2412.9 1106.5V1105.1H2420V1106.5ZM2457.2 1106.5V1105.1H2461.1V1106.5ZM2478 1106.5V1105.1H2483.4V1106.5ZM2489.9 1106.5V1105.1H2496.2V1106.5ZM2507.2 1106.5V1105.1H2512.3V1106.5ZM2534.9 1106.5V1105.1H2542.3V1106.5ZM2561.7 1106.5V1105.1H2562.9V1106.5ZM2565.5 1106.5V1105.1H2566.7V1106.5ZM2575.1 1106.5L2575.1 1106.5L2578.1 1104.1L2579.1 1104.1L2582.5 1105L2593.5 1105L2594.1 1106.5L2594.1 1106.5ZM2604.8 1106.5V1105.1H2609.9V1106.5ZM2617.9 1106.5V1105.1H2621.8V1106.5ZM2632.2 1106.5V1105.1H2638.2V1106.5ZM2676.8 1106.5V1105.1H2684.3V1106.5ZM2711.1 1106.5V1105.1H2714.9V1106.5ZM2722.4 1106.5V1105.1H2723.6V1106.5ZM2726.8 1106.5V1104.8H2745.9V1106.5ZM2776 1106.5V1105.1H2777.1V1106.5ZM2795.9 1106.5L2795.9 1106.5L2798.9 1103.5L2802.2 1103.2L2803.2 1103.2L2803.9 1104.7L2805.8 1103.2L2806.8 1103.2L2809.3 1104.1L2812.3 1102.3L2825.7 1102.3L2826.6 1101.1L2827.6 1101.1L2829.2 1103.2L2831.6 1104.1L2833.7 1106.5L2833.7 1106.5ZM2837 1106.5L2837 1106.5L2839.6 1103.2L2842.6 1101.1L2846 1099.3L2847 1099.3L2850.4 1100.5L2853.9 1102.6L2856.3 1106.5L2856.3 1106.5ZM2864.6 1106.5V1105.1H2865.8V1106.5ZM2876.8 1106.5L2876.8 1106.5L2878.7 1104.1L2879.7 1104.1L2883.7 1105L2884.3 1106.5L2884.3 1106.5ZM2887.3 1106.5L2887.3 1106.5L2887.6 1104.7L2901.5 1104.7L2904 1104.1L2905 1104.1L2907.5 1105L2908.1 1106.5L2908.1 1106.5ZM2914.9 1106.5V1105.1H2920V1106.5ZM2900 1106.5L2900 1106.5L2900 1105L2904.5 1104.4L2906 1103.2L2907 1103.2L2908.3 1105L2908.9 1106.5L2908.9 1106.5ZM2917 1106.5V1105.1H2920.8V1106.5ZM2931.2 1106.5L2931.2 1106.5L2935.2 1104.4L2936.2 1104.4L2945.5 1105L2946.1 1106.5L2946.1 1106.5ZM2949.1 1106.5L2949.1 1106.5L2953 1104.1L2956.5 1104.1L2958 1106.5L2958 1106.5ZM2972.3 1106.5L2972.3 1106.5L2976.3 1104.4L2977.3 1104.4L2978 1105L2990.8 1105L2993.8 1104.1L2997.6 1104.1L2998.8 1105L3005.7 1105L3007.1 1104.1L3011.6 1104.1L3013.1 1105L3016.1 1105L3016.7 1106.5L3016.7 1106.5ZM3025.9 1106.5V1105.1H3036V1106.5ZM3040.8 1106.5V1105.1H3047.9V1106.5ZM3056.8 1106.5L3056.8 1106.5L3060.7 1103.5L3063.7 1103.5L3066.7 1105L3067.3 1106.5L3067.3 1106.5ZM3069.6 1106.5L3069.6 1106.5L3072.7 1103.8L3073.7 1103.8L3076.2 1105L3080.1 1105L3081.5 1104.1L3096.4 1104.1L3100.9 1102.9L3104.3 1101.7L3105.3 1101.7L3108.3 1102.9L3112.8 1103.8L3118.8 1104.4L3124.7 1103.8L3135.1 1103.2L3138.1 1101.1L3140.5 1095.8L3144 1091.3L3147 1087.4L3148.9 1084.5L3149.9 1084.5L3152.4 1088.3L3156 1091.3L3158.9 1094.9L3161.9 1098.2L3164 1100.2L3165.8 1095.8L3167.9 1080.9L3169.9 1066L3171.7 1055.6L3172.7 1049.1L3173.7 1049.1L3175.3 1052.6L3177.4 1061.6L3179.8 1072L3181.8 1083.9L3184.2 1095.8L3186.3 1102.3L3188.7 1103.2L3191.7 1098.2L3194.6 1094.3L3198.6 1092.8L3199.6 1092.8L3203 1094.3L3206 1099.3L3208.9 1103.2L3212.5 1102.3L3215 1101.1L3216 1101.1L3218.5 1102.9L3221.4 1104.1L3224.4 1102.3L3231.8 1102.3L3234.8 1104.7L3235.7 1106.5L3235.7 1106.5ZM3242.3 1106.5V1105.1H3246.7V1106.5ZM3255.1 1106.5L3255.1 1106.5L3258.7 1103.8L3259.7 1103.8L3263.1 1104.7L3266.7 1105L3267.3 1106.5L3267.3 1106.5ZM3271.1 1106.5L3271.1 1106.5L3273 1104.4L3274 1104.4L3276.5 1105L3285.4 1105L3287.9 1103.8L3288.9 1103.8L3291.4 1104.7L3293.8 1104.1L3294.8 1104.1L3298.8 1105L3302.8 1104.4L3303.8 1104.4L3306.2 1105L3312.2 1105L3312.8 1106.5L3312.8 1106.5ZM3316.7 1106.5L3316.7 1106.5L3320 1104.4L3321 1104.4L3325 1105L3325.6 1106.5L3325.6 1106.5ZM3338.1 1106.5V1105.1H3342.9V1106.5ZM3344.9 1106.5L3344.9 1106.5L3348.9 1104.4L3349.9 1104.4L3353.9 1105L3354.5 1106.5L3354.5 1106.5ZM3360.4 1106.5V1105.1H3364.9V1106.5ZM3370.2 1106.5V1105.1H3375.6V1106.5ZM3394 1106.5L3394 1106.5L3397 1104.4L3403 1103.8L3405.5 1103.5L3406.5 1103.5L3410.4 1104.1L3411.9 1106.5L3411.9 1106.5Z" fill="#F46D43" shape-rendering="crispEdges"/>
<rect x="458" y="1106" width="3096" height="1" fill="#000"/>
<text transform="translate(308.2 1039.8) scale(1 1.04)" font-size="36.67" text-anchor="middle" fill="#1A1A1A">0 RF</text>
<path d="M598.8 1284.5L598.8 1284.5L599.1 1278.7L600.6 1278.3L601.6 1278.3L602.3 1279.4L605.7 1279L607.6 1273.7L609.4 1265.7L611.5 1259.9L612.8 1250.3L613.8 1250.3L614.5 1251.9L616.1 1247.3L617.9 1239.2L619.5 1230.1L620.9 1209.4L621.8 1191L622.2 1182.3L623.2 1182.3L624.1 1184.1L625.2 1191L626.6 1207.1L627.8 1225.5L628.9 1246.1L630.1 1253L631.7 1255.3L632.4 1261.1L633.5 1261.1L634.7 1253L636.3 1234.6L637.9 1211.7L639.3 1184.1L640.6 1165.7L641.5 1136.6L642.5 1136.6L643.6 1137.7L644.3 1157.7L645.5 1171.5L645.9 1158.9L646.9 1158.9L647.5 1164.6L648.4 1177.2L650.1 1188.7L651.2 1192.2L652.1 1185.3L653 1185.3L653 1209.4L654.4 1214L655.8 1232.4L657.4 1250.7L658.8 1264.5L659.9 1276L662.7 1277.1L666.8 1276.5L667.8 1276.5L669.6 1279.4L673 1281.7L677.6 1282.9L683.4 1282.2L687.9 1280.1L692 1279.4L693 1279.4L694.8 1282.9L696 1284.5L696 1284.5ZM703.6 1284.5V1283.1H705.2V1284.5ZM767.2 1284.5L767.2 1284.5L767.4 1282.9L768.3 1282L769.3 1282L771.8 1282.4L772.9 1284.5L772.9 1284.5ZM789 1284.5V1283.1H791.8V1284.5ZM802.8 1284.5L802.8 1284.5L803 1282.9L806.2 1282.2L814.3 1281.7L819.5 1280.6L820 1280.6L820 1284.5L820 1284.5ZM820 1284.5L820 1284.5L820 1281.5L820.5 1281.5L824.5 1282.7L825.4 1284.5L825.4 1284.5ZM831 1284.5V1283.1H832.8V1284.5ZM841.7 1284.5L841.7 1284.5L842.7 1281.8L843.7 1281.8L846.8 1282.1L848.3 1284.5L848.3 1284.5ZM898 1284.5L898 1284.5L900.4 1282.1L904.8 1282.1L906.3 1282.7L910.3 1281.8L911.3 1281.8L915.2 1282.1L918.2 1283L919.1 1284.5L919.1 1284.5ZM925.1 1284.5L925.1 1284.5L925.7 1281.8L939 1281.8L942 1282.7L942.9 1284.5L942.9 1284.5ZM964.9 1284.5L964.9 1284.5L965.3 1281.8L966.3 1281.8L968.8 1282.1L970.3 1284.5L970.3 1284.5ZM1045.3 1284.5L1045.3 1284.5L1047.7 1281.2L1050.7 1280L1053.7 1279.1L1054.7 1279.1L1056.6 1280.6L1059.6 1281.5L1061.7 1284.5L1061.7 1284.5ZM1081 1284.5L1081 1284.5L1084.3 1281.8L1087.9 1281.8L1091.4 1283L1092.3 1284.5L1092.3 1284.5ZM1117.6 1284.5V1283.1H1121.2V1284.5ZM1125.1 1284.5V1283.1H1128V1284.5ZM1201 1284.5V1283.1H1206.9V1284.5ZM1212.9 1284.5V1283.1H1218.8V1284.5ZM1221.2 1284.5V1283.1H1222.4V1284.5ZM1239 1284.5V1283.1H1242V1284.5ZM1282.8 1284.5L1282.8 1284.5L1284.9 1282.1L1288.8 1282.1L1290.2 1282.7L1293.2 1281.8L1302.1 1281.8L1303 1284.5L1303 1284.5ZM1309.6 1284.5L1309.6 1284.5L1311.7 1280.9L1317 1280.9L1319.4 1282.7L1324.5 1282.7L1327.4 1279.7L1331.3 1278.5L1332.5 1274.1L1335.5 1270.2L1342.3 1270.2L1344.4 1273.2L1347.4 1274.7L1351.2 1278.2L1355.7 1281.5L1362.3 1282.1L1364.6 1279.1L1367.6 1272.3L1370.1 1271.1L1371.1 1271.1L1372.7 1273.2L1374.2 1278.2L1375.5 1276.8L1376.5 1276.8L1378.9 1281.2L1381 1280.6L1384 1274.7L1388 1274.1L1389 1274.1L1390.8 1279.1L1392.9 1283L1393.5 1284.5L1393.5 1284.5ZM1397.4 1284.5L1397.4 1284.5L1400.5 1282.1L1401.5 1282.1L1403.9 1282.7L1404.8 1284.5L1404.8 1284.5ZM1412.3 1284.5V1283.1H1422.7V1284.5ZM1430.1 1284.5L1430.1 1284.5L1431.6 1282.7L1449.5 1282.7L1450.5 1282.1L1451.5 1282.1L1455.4 1282.7L1456.9 1282.1L1465.8 1282.1L1468.8 1283L1469.7 1284.5L1469.7 1284.5ZM1479.2 1284.5L1479.2 1284.5L1482.2 1282.1L1495.6 1282.1L1497.5 1280.6L1498.5 1280.6L1500.1 1282.1L1512 1282.1L1514.9 1284.5L1514.9 1284.5ZM1522.4 1284.5L1522.4 1284.5L1525.5 1281.5L1526.5 1281.5L1530.4 1282.1L1539.3 1282.1L1542.3 1283L1543.8 1284.5L1543.8 1284.5ZM1583.1 1284.5L1583.1 1284.5L1584 1282.1L1588.5 1282.1L1589.9 1284.5L1589.9 1284.5ZM1595.9 1284.5L1595.9 1284.5L1596.8 1282.1L1600.4 1282.1L1602.7 1284.5L1602.7 1284.5ZM1622.7 1284.5V1283.1H1626.5V1284.5ZM1631.6 1284.5L1631.6 1284.5L1635 1282.1L1636 1282.1L1637 1284.5L1637 1284.5ZM1643.5 1284.5V1283.1H1645.6V1284.5ZM1653.9 1284.5L1653.9 1284.5L1658.8 1282.1L1659.8 1282.1L1662.3 1283L1662.9 1284.5L1662.9 1284.5ZM1671.8 1284.5V1283.1H1679.2V1284.5ZM1682.2 1284.5L1682.2 1284.5L1687.7 1281.2L1688.7 1281.2L1692 1282.1L1693.5 1284.5L1693.5 1284.5ZM1700.1 1284.5V1283.1H1703.9V1284.5ZM1708.1 1284.5V1283.1H1712.9V1284.5ZM1716.4 1284.5L1716.4 1284.5L1720 1282.1L1725.4 1282.1L1728.3 1283L1728.9 1284.5L1728.9 1284.5ZM1743.2 1284.5V1283.1H1747.7V1284.5ZM1754.2 1284.5L1754.2 1284.5L1756.1 1282.1L1757.1 1282.1L1759.6 1282.4L1761.1 1284.5L1761.1 1284.5ZM1778.9 1284.5L1778.9 1284.5L1783.4 1282.4L1787.4 1281.2L1788.4 1281.2L1791.4 1282.7L1793.8 1284.5L1793.8 1284.5ZM1802.1 1284.5V1283.1H1806.6V1284.5ZM1817 1284.5V1283.1H1821.5V1284.5ZM1846.8 1284.5L1846.8 1284.5L1850.4 1282.1L1852.8 1281.5L1853.8 1281.5L1854.8 1282.7L1855.8 1280.9L1856.8 1280.9L1857.8 1282.1L1860.8 1278.2L1863.2 1277.3L1864.2 1277.3L1866.7 1279.7L1869.7 1282.1L1871.2 1277.6L1873.3 1264.3L1875.1 1243.4L1877.1 1219.6L1878.6 1209.2L1879 1204.1L1880 1204.1L1880.7 1209.2L1882.5 1212.2L1884.6 1228.5L1886.7 1241.9L1889 1255.3L1890.5 1274.7L1892 1282.1L1892.6 1284.5L1892.6 1284.5ZM1895.6 1284.5L1895.6 1284.5L1898.6 1279.1L1901.3 1274.1L1902.3 1274.1L1904.5 1279.1L1907.5 1281.5L1909.9 1282.1L1913 1280.3L1914 1280.3L1916.4 1282.1L1918.8 1283L1919.4 1284.5L1919.4 1284.5ZM1920.9 1284.5L1920.9 1284.5L1924.8 1282.1L1928.7 1281.2L1929.7 1281.2L1933.1 1281.5L1935.2 1284.5L1935.2 1284.5ZM1941.7 1284.5L1941.7 1284.5L1944.5 1281.5L1945.5 1281.5L1948.6 1282.1L1954.5 1282.1L1955.5 1281.2L1956.5 1281.2L1959 1282.1L1961.4 1280.6L1963.5 1274.7L1965.8 1266.6L1968 1259.8L1969 1259.8L1970.9 1264.8L1973 1268.7L1974.8 1276.2L1976.8 1283L1977.7 1284.5L1977.7 1284.5ZM1982.8 1284.5L1982.8 1284.5L1984.3 1282.1L1990.8 1282.1L1991.7 1284.5L1991.7 1284.5ZM1994.1 1284.5L1994.1 1284.5L1996.2 1282.1L2003.6 1282.1L2005.7 1284.5L2005.7 1284.5ZM2035.8 1284.5V1283.1H2039.3V1284.5ZM2040.8 1284.5V1283.1H2042.9V1284.5ZM2077.4 1284.5V1283.1H2078.6V1284.5ZM2120.6 1284.5L2120.6 1284.5L2123.6 1281.8L2126.6 1281.2L2127.6 1281.2L2130.1 1282.1L2132.2 1284.5L2132.2 1284.5ZM2183.1 1284.5V1283.1H2188.2V1284.5ZM2198 1284.5L2198 1284.5L2201.9 1282.1L2202.9 1282.1L2204.5 1284.5L2204.5 1284.5ZM2304.2 1284.5V1283.1H2306.3V1284.5ZM2323.6 1284.5L2323.6 1284.5L2327.1 1282.1L2330.7 1282.1L2332.5 1284.5L2332.5 1284.5ZM2404.5 1284.5L2404.5 1284.5L2405.5 1282.1L2406.5 1282.1L2407.5 1282.7L2412 1282.7L2412.6 1284.5L2412.6 1284.5ZM2414.9 1284.5L2414.9 1284.5L2416.5 1282.1L2417.5 1282.1L2418.8 1282.7L2419.5 1282.1L2420.5 1282.1L2422.4 1284.5L2422.4 1284.5ZM2487 1284.5V1283.1H2489.3V1284.5ZM2562.9 1284.5L2562.9 1284.5L2566.7 1282.1L2571.2 1282.1L2573.3 1284.5L2573.3 1284.5ZM2592.6 1284.5V1283.1H2598V1284.5ZM2671.8 1284.5L2671.8 1284.5L2674 1282.1L2675 1282.1L2676.8 1284.5L2676.8 1284.5ZM2732.8 1284.5L2732.8 1284.5L2736.5 1282.1L2737.5 1282.1L2739.3 1283L2740.2 1284.5L2740.2 1284.5ZM2763.2 1284.5L2763.2 1284.5L2765.2 1282.1L2769.1 1282.1L2770 1283L2771.2 1282.1L2776 1282.1L2777.1 1284.5L2777.1 1284.5ZM2780.1 1284.5V1283.1H2781.9V1284.5ZM2791.4 1284.5L2791.4 1284.5L2793.9 1282.1L2794.9 1282.1L2797.4 1282.7L2800.4 1284.5L2800.4 1284.5ZM2802.4 1284.5L2802.4 1284.5L2804.8 1282.1L2806.4 1281.2L2807.4 1281.2L2810.8 1282.1L2812.9 1284.5L2812.9 1284.5ZM2817.6 1284.5L2817.6 1284.5L2821.2 1279.7L2824.2 1274.7L2826 1273.2L2827 1273.2L2829.2 1274.7L2831.6 1278.5L2833.7 1282.1L2838.5 1282.1L2839 1284.5L2839 1284.5ZM2839.9 1284.5L2839.9 1284.5L2842 1279.1L2845 1276.2L2848 1275.3L2848.1 1273.2L2849.1 1273.2L2849.2 1275.3L2852.4 1276.8L2855.4 1280L2857.5 1282.7L2859.9 1282.1L2862.9 1282.1L2863.8 1283L2866.7 1283L2867.3 1284.5L2867.3 1284.5ZM2876.2 1284.5V1283.1H2883.7V1284.5ZM2925.9 1284.5L2925.9 1284.5L2926.2 1282.1L2932.7 1281.5L2937.6 1281.2L2938.6 1281.2L2940.2 1282.7L2956.5 1282.7L2958 1282.1L2967 1282.1L2969 1283L2969.9 1284.5L2969.9 1284.5ZM2972.3 1284.5L2972.3 1284.5L2976.8 1282.1L2980.4 1282.1L2982.7 1284.5L2982.7 1284.5ZM2988.7 1284.5L2988.7 1284.5L2993.8 1282.1L2996.7 1282.1L2999.1 1284.5L2999.1 1284.5ZM3010.1 1284.5L3010.1 1284.5L3013.1 1282.1L3029.5 1282.1L3031.8 1284.5L3031.8 1284.5ZM3039.9 1284.5L3039.9 1284.5L3042.4 1282.1L3043.4 1282.1L3045.8 1282.7L3048.8 1282.1L3053.3 1282.1L3055.7 1284.5L3055.7 1284.5ZM3078.9 1284.5L3078.9 1284.5L3079.5 1282.1L3085.1 1282.1L3086.6 1284.5L3086.6 1284.5ZM3091.1 1284.5L3091.1 1284.5L3092 1282.1L3096.4 1282.1L3097.3 1284.5L3097.3 1284.5ZM3101.2 1284.5L3101.2 1284.5L3103.9 1281.5L3107.8 1281.2L3108.8 1281.2L3109.8 1282.1L3122.6 1282.1L3124.7 1284.5L3124.7 1284.5ZM3129.8 1284.5L3129.8 1284.5L3133.6 1281.2L3135.5 1279.1L3136.5 1279.1L3137.2 1280.9L3139.1 1280.3L3140.1 1280.3L3142.6 1281.2L3145.5 1279.7L3150 1279.1L3153 1276.2L3155.4 1271.7L3156.6 1268.7L3157.6 1268.7L3158.9 1272.3L3161 1276.8L3162.5 1281.2L3163.4 1284.5L3164.9 1281.2L3167.9 1276.2L3169.9 1265.7L3171.7 1255.3L3173.3 1243.4L3174.3 1243.4L3175.9 1245.5L3178.3 1246.4L3179.8 1259.8L3181.8 1267.2L3183.6 1278.5L3185.7 1279.7L3191.2 1279.4L3192.2 1279.4L3194 1280.9L3197 1278.2L3199.1 1274.7L3201.6 1271.4L3202.6 1271.4L3204.5 1274.1L3207.4 1277.6L3210.4 1280.6L3213.4 1282.1L3217 1282.7L3218.5 1282.1L3219.5 1282.1L3221.4 1283L3222 1284.5L3222 1284.5ZM3225 1284.5L3225 1284.5L3226.9 1282.4L3227.9 1282.4L3231.8 1282.7L3233.9 1284.5L3233.9 1284.5ZM3244.6 1284.5V1283.1H3248.8V1284.5ZM3255.1 1284.5L3255.1 1284.5L3255.7 1282.1L3260.1 1282.1L3261 1283L3262.6 1282.1L3263.6 1282.1L3267.6 1282.4L3269 1284.5L3269 1284.5ZM3335.1 1284.5V1283.1H3336.9V1284.5ZM3360.7 1284.5L3360.7 1284.5L3366.7 1282.4L3372.3 1282.4L3373.2 1284.5L3373.2 1284.5ZM3406 1284.5V1283.1H3408.9V1284.5Z" fill="#D73027" shape-rendering="crispEdges"/>
<rect x="458" y="1284" width="3096" height="1" fill="#000"/>
<text transform="translate(308.2 1217.8) scale(1 1.04)" font-size="36.67" text-anchor="middle" fill="#1A1A1A">4 RF</text>
<path d="M598.8 1462.5L598.8 1462.5L599.1 1442.5L599.7 1438.4L600.7 1438.4L601.8 1441.4L603 1437.9L603.6 1434L604.6 1434L604.8 1437.9L606.4 1429.9L608 1413.8L608.9 1409.2L609.9 1409.2L610.3 1413.8L611 1418.4L611.7 1409.2L612.7 1409.2L612.8 1418.4L614.5 1421.8L616.1 1433.3L616.7 1425.3L617.9 1418.4L619.5 1413.8L620.4 1393.1L621.8 1388.1L622.9 1357.5L624.8 1357.5L624.8 1349L625.7 1349L625.9 1379.3L626.9 1379.3L627.1 1397.7L627.8 1397.7L627.8 1379.3L628.7 1379.3L629.4 1381.6L631 1389.7L632.8 1381.6L634.4 1363.3L636 1348.3L636.9 1333L637.9 1333L639 1335.7L640.2 1347.2L641.1 1363.3L642.5 1367.9L643.8 1372.5L645.2 1378.2L646.1 1363.3L646.8 1355.9L647.8 1355.9L648.2 1365.6L648.9 1372.5L650.7 1379.3L652.6 1383.9L653.5 1404.6L655.1 1416.1L656.5 1427.6L658.1 1436.8L659.7 1442.5L661.5 1446L662.2 1456.3L663.8 1459.7L665 1462.5L665 1462.5ZM674.9 1462.5V1457H680.6V1462.5ZM687 1462.5V1457H698.7V1462.5ZM988.2 1462.5V1457H993.5V1462.5ZM998 1462.5V1457H1004.8V1462.5ZM1040.2 1462.5L1040.2 1462.5L1040.2 1457.1L1043.8 1457.1L1044.1 1452.7L1046.8 1452.7L1047.1 1456.2L1050.7 1462.5L1050.7 1462.5ZM1206 1462.5L1206 1462.5L1206 1457.1L1210.8 1457.1L1216.4 1462.5L1216.4 1462.5ZM1231.3 1462.5V1457H1238.8V1462.5ZM1241.7 1462.5L1241.7 1462.5L1247.7 1455.6L1248.6 1451.8L1249.9 1448.8L1250.9 1448.8L1252.1 1451.8L1254.5 1452.7L1257.5 1457.1L1259 1457.1L1259.3 1452.7L1261.4 1452.7L1261.7 1457.1L1263.5 1457.1L1263.8 1453.3L1265.2 1453.3L1265.5 1457.1L1268.5 1457.1L1268.8 1453.3L1270 1453.3L1270.3 1457.1L1273.9 1457.1L1274.2 1452.7L1276 1452.7L1276.2 1457.1L1279.8 1457.1L1279.8 1462.5L1279.8 1462.5ZM1284.9 1462.5L1284.9 1462.5L1284.9 1457.1L1293.2 1457.1L1297.1 1462.5L1297.1 1462.5ZM1300.7 1462.5L1300.7 1462.5L1305.7 1457.1L1310.2 1457.1L1311.1 1462.5L1311.1 1462.5ZM1319.1 1462.5L1319.1 1462.5L1321.5 1457.1L1325.4 1457.1L1325.7 1462.5L1325.7 1462.5ZM1331 1462.5L1331 1462.5L1331 1457.1L1342.3 1457.1L1342.6 1453.3L1343.8 1453.3L1344.1 1457.1L1345.3 1457.1L1345.6 1452.7L1347.4 1452.7L1347.7 1457.1L1351.8 1457.1L1352.1 1462.5L1352.1 1462.5ZM1360.2 1462.5L1360.2 1462.5L1364 1453.3L1366.7 1444.3L1368.2 1441.4L1368.5 1433.9L1369.1 1433.9L1369.4 1441.4L1371.2 1442.3L1371.6 1439.9L1372.6 1439.9L1373.6 1444.3L1375.7 1450.3L1377.4 1462.5L1377.4 1462.5ZM1380.1 1462.5L1380.1 1462.5L1380.1 1457.1L1385.5 1457.1L1385.8 1453.3L1387 1453.3L1387.6 1448.8L1389 1442.3L1390.8 1442.3L1391.1 1448.8L1392.3 1448.8L1392.6 1443.4L1393.5 1443.4L1393.8 1450.3L1395.9 1452.7L1398 1455.6L1399.8 1462.5L1399.8 1462.5ZM1409.3 1462.5L1409.3 1462.5L1413.8 1457.1L1416.1 1457.1L1416.7 1462.5L1416.7 1462.5ZM1427.1 1462.5L1427.1 1462.5L1430.1 1457.1L1434.6 1457.1L1437.6 1462.5L1437.6 1462.5ZM1439 1462.5L1439 1462.5L1442 1455.6L1443.9 1447.3L1444.9 1447.3L1445.6 1448.8L1447.4 1455.6L1448.9 1462.5L1448.9 1462.5ZM1463.8 1462.5V1457H1471.8V1462.5ZM1475.7 1462.5L1475.7 1462.5L1475.7 1457.1L1487.6 1457.1L1487.9 1447.3L1489.6 1447.3L1489.9 1451.8L1492.6 1452.7L1494.1 1457.1L1494.7 1462.5L1494.7 1462.5ZM1500.7 1462.5L1500.7 1462.5L1504 1457.7L1505 1457.7L1508.1 1462.5L1508.1 1462.5ZM1509.9 1462.5V1457H1520V1462.5ZM1520 1462.5L1520 1462.5L1520 1457.1L1523 1457.1L1523.3 1453.3L1523.9 1453.3L1524.2 1457.1L1525.4 1457.1L1525.5 1453.3L1526.5 1453.3L1529.5 1456.2L1531 1457.1L1534.9 1457.1L1537.9 1452.7L1539.3 1452.7L1541.4 1457.1L1543.8 1462.5L1543.8 1462.5ZM1545.3 1462.5L1545.3 1462.5L1549.3 1457.1L1550.3 1457.1L1552.7 1462.5L1552.7 1462.5ZM1554.2 1462.5L1554.2 1462.5L1556.3 1457.1L1562.6 1457.1L1563.2 1462.5L1563.2 1462.5ZM1590.8 1462.5L1590.8 1462.5L1592.9 1457.1L1597.4 1457.1L1601 1462.5L1601 1462.5ZM1613.8 1462.5L1613.8 1462.5L1615.2 1457.1L1620.6 1457.1L1621.2 1462.5L1621.2 1462.5ZM1631.9 1462.5L1631.9 1462.5L1632.2 1457.1L1637 1457.1L1638.2 1462.5L1638.2 1462.5ZM1653.9 1462.5L1653.9 1462.5L1655.4 1457.1L1659.9 1457.1L1661.1 1462.5L1661.1 1462.5ZM1826.5 1462.5L1826.5 1462.5L1830.5 1457.1L1831.5 1457.1L1834.9 1462.5L1834.9 1462.5ZM1862.3 1462.5L1862.3 1462.5L1862.3 1457.1L1866.7 1457.1L1868.8 1462.5L1868.8 1462.5ZM1870.3 1462.5L1870.3 1462.5L1872.7 1456.2L1874.2 1444.3L1875.7 1430.9L1877.1 1423.5L1878.1 1419L1879.1 1419L1880.7 1422.9L1882.5 1433.9L1882.6 1429.5L1883.6 1429.5L1885.5 1431.8L1887.6 1433.9L1889 1444.3L1890.5 1456.2L1891.1 1462.5L1891.1 1462.5ZM2250.7 1462.5L2250.7 1462.5L2250.7 1457.1L2256.9 1457.1L2257.2 1455.1L2257.8 1455.1L2258.1 1457.1L2264 1457.1L2264 1462.5L2264 1462.5ZM2333.1 1462.5L2333.1 1462.5L2333.1 1457.1L2339 1457.1L2339.3 1453.6L2339.9 1453.6L2340.2 1457.1L2345 1457.1L2345 1462.5L2345 1462.5ZM2353.9 1462.5L2353.9 1462.5L2353.9 1457.1L2358.4 1457.1L2359.9 1458.3L2359.9 1462.5L2359.9 1462.5ZM2363.8 1462.5L2363.8 1462.5L2363.8 1457.1L2368.8 1457.1L2370.9 1458L2370.9 1462.5L2370.9 1462.5ZM2401 1462.5L2401 1462.5L2401 1457.1L2403 1454.8L2404.6 1451.8L2405.6 1451.8L2406.9 1455.3L2408.4 1457.1L2410.5 1457.7L2411.1 1462.5L2411.1 1462.5ZM2551.8 1462.5V1457H2558.7V1462.5ZM2566.7 1462.5V1457H2574.2V1462.5ZM2796.8 1462.5L2796.8 1462.5L2800.4 1457.1L2803.3 1451.8L2806.3 1447.3L2809.3 1447.3L2810.8 1451.8L2812.3 1457.7L2813.2 1462.5L2813.2 1462.5ZM2820.6 1462.5L2820.6 1462.5L2823.3 1457.1L2824.2 1452.7L2827.1 1451.8L2827.4 1448.2L2828 1448.2L2828.3 1452.7L2830.1 1455.6L2831.6 1457.1L2833.7 1457.7L2834 1462.5L2834 1462.5ZM2839.9 1462.5L2839.9 1462.5L2839.9 1457.1L2848.9 1457.1L2849.2 1452.4L2853 1452.4L2853.3 1457.7L2856 1462.5L2856 1462.5ZM2958 1462.5L2958 1462.5L2961 1457.1L2967.9 1457.1L2970.2 1462.5L2970.2 1462.5ZM2987.8 1462.5L2987.8 1462.5L2991.7 1457.1L2995.2 1457.1L2995.8 1462.5L2995.8 1462.5ZM3002.7 1462.5L3002.7 1462.5L3007.1 1457.1L3011 1457.1L3011.9 1462.5L3011.9 1462.5ZM3047.3 1462.5L3047.3 1462.5L3050.3 1457.1L3050.6 1452.4L3053.3 1452.4L3054.2 1455.6L3056.8 1457.7L3059.2 1462.5L3059.2 1462.5ZM3125.3 1462.5L3125.3 1462.5L3125.3 1457.1L3129.8 1457.1L3132.1 1462.5L3132.1 1462.5ZM3139 1462.5L3139 1462.5L3142 1457.1L3144.6 1451.2L3146.4 1445.8L3147.4 1442.3L3148.4 1442.3L3149.4 1446.4L3151.5 1448.8L3153 1451.8L3153.9 1457.1L3167.9 1457.1L3168.8 1439.9L3170.2 1422L3171.7 1410.1L3172.7 1403.3L3173.7 1403.3L3175.3 1404.2L3176.2 1414.6L3177.4 1428L3180.4 1428.6L3181.8 1436.9L3183.3 1445.8L3185.1 1451.8L3186.6 1457.7L3187.8 1462.5L3187.8 1462.5ZM3189.3 1462.5L3189.3 1462.5L3191.1 1457.1L3199.1 1457.1L3202.1 1462.5L3202.1 1462.5ZM3211.6 1462.5L3211.6 1462.5L3214 1457.1L3217 1457.1L3218.8 1453.3L3219.8 1453.3L3221.4 1455.6L3225 1457.7L3229.5 1462.5L3229.5 1462.5ZM3232.7 1462.5L3232.7 1462.5L3233.3 1457.1L3238.7 1457.1L3241.4 1462.5L3241.4 1462.5ZM3271.1 1462.5L3271.1 1462.5L3271.5 1457.1L3272.5 1457.1L3274.4 1457.7L3279.5 1462.5L3279.5 1462.5ZM3294.9 1462.5L3294.9 1462.5L3294.9 1457.1L3300.9 1457.1L3300.9 1453.3L3301.7 1453.3L3304.8 1456.2L3308.3 1457.7L3309.2 1462.5L3309.2 1462.5ZM3316.7 1462.5L3316.7 1462.5L3318.8 1457.1L3322.6 1457.1L3322.9 1462.5L3322.9 1462.5Z" fill="#A50026" shape-rendering="crispEdges"/>
<rect x="458" y="1462" width="3096" height="1" fill="#000"/>
<text transform="translate(308.2 1395.8) scale(1 1.04)" font-size="36.67" text-anchor="middle" fill="#1A1A1A">8 Pre-Adipocyte</text>
<path d="M598.9 1641.5L598.9 1641.5L599.1 1628.3L599.5 1627.9L600.4 1627.9L600.4 1629.8L601.7 1630.1L601.8 1627.9L602.8 1627.9L603 1633L605.5 1633L606.1 1626L607 1620.9L608.1 1615.2L609.1 1609.2L610.6 1607.5L612.5 1605.6L613.8 1604.3L613.9 1603.1L614.9 1603.1L615.1 1608.2L616.3 1607.1L617.2 1601.1L618.3 1594.8L619.3 1588.4L620.2 1580.1L621.1 1569.3L622.1 1564.8L622.9 1560.1L623.9 1560.1L624.6 1561.6L625.5 1568L626.5 1574.4L627.4 1580.1L628.2 1592.9L629.7 1594.4L631 1595.7L631.9 1598L632.3 1603.1L632.9 1602.4L633.6 1597.3L634.6 1592.9L635.5 1587.8L636.4 1573.1L637.4 1554.6L638.4 1545L639.3 1536.1L640.3 1532.3L641.2 1514.4L641.7 1509.1L642.7 1509.1L642.9 1513.2L643.8 1514.4L644.1 1522.1L644.8 1522.7L645 1531L645.7 1531L646.1 1517L646.7 1517L647.3 1522.7L648.2 1529.1L649.1 1532.3L650.1 1531.6L651.4 1527.8L651.9 1525L652.9 1525L652.9 1535.5L653.6 1546.9L654.6 1555.2L655.5 1565.4L656.5 1583.3L657.5 1589.7L658.4 1596.7L659.1 1619.6L660.1 1622.8L661 1629.2L662.2 1632.4L663.1 1635.3L664.8 1636.8L670.5 1637.1L671.8 1637.9L673.7 1638.1L675 1639L676.5 1639L677.6 1640.3L679.5 1637.1L682 1636.8L682.7 1636.2L684.6 1636L685.8 1634.9L687.1 1634.9L687.9 1633.9L688.9 1633.9L689.9 1635.2L691.6 1637.1L693.2 1639L698.6 1639L699.5 1637.9L701.8 1637.9L702.4 1639L703.7 1639L703.8 1637.9L704.8 1637.9L705.2 1639L709.4 1639L710.3 1639.8L717.7 1639.8L718.1 1641.5L718.1 1641.5ZM732 1641.5L732 1641.5L732.6 1639.8L737.5 1639.8L738.1 1641.5L738.1 1641.5ZM761.3 1641.5V1640H766.8V1641.5ZM779.8 1641.5L779.8 1641.5L780.8 1640L782.8 1639.8L784 1639L787.5 1639L788.1 1639.8L792.7 1639.8L793 1641.5L793 1641.5ZM795.8 1641.5V1640H798.9V1641.5ZM807 1641.5V1640H812.7V1641.5ZM818.7 1641.5V1639.6H820V1641.5ZM820 1641.5V1639.8H824.5V1641.5ZM843.8 1641.5L843.8 1641.5L847.8 1638.2L848.8 1638.2L852.7 1638.5L855.7 1639.4L861.7 1639.7L862.3 1641.5L862.3 1641.5ZM902.7 1641.5L902.7 1641.5L906.3 1639.4L908.8 1638.2L909.8 1638.2L912.9 1639.1L915.8 1641.5L915.8 1641.5ZM920.6 1641.5L920.6 1641.5L922.1 1638.8L925.2 1637.3L926.2 1637.3L927.1 1638.5L928.7 1638.2L929.7 1638.2L931.6 1639.4L934 1641.5L934 1641.5ZM951 1641.5L951 1641.5L952.4 1639.4L964.3 1639.4L967.3 1638.2L971.8 1638.2L974.2 1639.7L974.8 1641.5L974.8 1641.5ZM985.2 1641.5V1640.1H989V1641.5ZM1066.1 1641.5V1640.1H1070V1641.5ZM1078.3 1641.5L1078.3 1641.5L1079.5 1636.4L1081.9 1635.8L1083.8 1634.3L1084.8 1634.3L1087.9 1634.9L1090.8 1636.4L1095.3 1637.9L1098.3 1639.4L1099.8 1641.5L1099.8 1641.5ZM1111.7 1641.5V1640.1H1114V1641.5ZM1118.2 1641.5L1118.2 1641.5L1123.1 1639.1L1124.1 1639.1L1128 1639.7L1128.9 1641.5L1128.9 1641.5ZM1133.1 1641.5V1640.1H1139V1641.5ZM1148.3 1641.5V1640.1H1152.7V1641.5ZM1215.8 1641.5L1215.8 1641.5L1219.8 1639.4L1220.8 1639.4L1224.8 1640L1226.2 1639.4L1230.2 1639.1L1231.2 1639.1L1236.7 1639.7L1237.3 1641.5L1237.3 1641.5ZM1245 1641.5L1245 1641.5L1250.1 1639.4L1253 1638.8L1255.5 1637.6L1256.5 1637.6L1259 1638.8L1262 1639.7L1272.4 1639.7L1273.9 1638.2L1282.8 1638.2L1284.3 1639.4L1289.6 1639.4L1291.7 1637L1293.3 1635.8L1294.3 1635.8L1296.2 1637.9L1298.6 1641.5L1298.6 1641.5ZM1301.5 1641.5L1301.5 1641.5L1302.7 1634.9L1305.7 1632.6L1308.1 1631.4L1308.5 1629L1309.5 1629L1310.2 1632L1312.6 1633.5L1315.5 1636.4L1318.5 1637.9L1320.1 1637L1321.1 1637L1322.1 1641.5L1322.1 1641.5ZM1326 1641.5L1326 1641.5L1328.9 1636.4L1331.9 1634.3L1336.4 1634.1L1339.3 1629L1342.3 1627.8L1345.3 1627.5L1346.8 1625.4L1349.2 1625.4L1350.7 1629L1352.7 1637L1355.7 1637.9L1358.7 1636.4L1361.7 1632L1365.2 1627.5L1373 1627.5L1375.1 1630.5L1378 1634.3L1381 1638.8L1382.5 1637.9L1385.5 1634.9L1388 1634.1L1389 1634.1L1392.9 1635.8L1395.9 1637.9L1397.4 1639.7L1401.8 1639.7L1402.4 1641.5L1402.4 1641.5ZM1403.3 1641.5L1403.3 1641.5L1404.8 1639.7L1409.9 1639.7L1411.8 1638.2L1412.8 1638.2L1415.2 1639.4L1418.2 1639.4L1419.2 1638.5L1420.2 1638.5L1430.1 1638.8L1433.1 1637.9L1437.1 1637.3L1438.1 1637.3L1442 1637.9L1443.8 1641.5L1443.8 1641.5ZM1454.8 1641.5L1454.8 1641.5L1456.9 1639.7L1462.9 1639.7L1463.8 1638.2L1464.8 1638.2L1467.3 1638.8L1469.7 1641.5L1469.7 1641.5ZM1474.8 1641.5L1474.8 1641.5L1479.2 1639.4L1482.2 1637L1485.2 1634.9L1487.7 1634.1L1488.7 1634.1L1492 1634.9L1495 1637.3L1498.6 1636.7L1503 1636.7L1506 1638.2L1510 1637.9L1511 1637.9L1514.9 1639.1L1520 1639.4L1520 1641.5L1520 1641.5ZM1520 1641.5L1520 1641.5L1520 1639.4L1520.5 1639.4L1531.9 1639.7L1533.4 1641.5L1533.4 1641.5ZM1534.3 1641.5L1534.3 1641.5L1536.4 1638.8L1539.3 1638.8L1540.8 1637.3L1543.3 1635.5L1544.3 1635.5L1548.3 1636.7L1552.7 1637.9L1557.2 1636.7L1559.6 1635.5L1559.7 1630.5L1560.7 1630.5L1564.6 1632.6L1567.6 1634.9L1570 1639.4L1572.1 1641.5L1572.1 1641.5ZM1576.5 1641.5L1576.5 1641.5L1579.5 1636.4L1583.5 1634.3L1584.5 1634.3L1588.5 1634.9L1592.9 1635.8L1597.5 1634.9L1598.5 1634.9L1599.8 1638.8L1604.8 1639.7L1607.3 1638.8L1608.3 1638.8L1611.7 1639.1L1612.9 1641.5L1612.9 1641.5ZM1623.6 1641.5V1640.1H1630.1V1641.5ZM1683.1 1641.5L1683.1 1641.5L1685.2 1639.1L1689.6 1639.1L1692 1641.5L1692 1641.5ZM1698 1641.5V1640.1H1703.9V1641.5ZM1714.9 1641.5L1714.9 1641.5L1717.4 1639.1L1718.4 1639.1L1722.4 1639.4L1731.3 1639.7L1731.9 1641.5L1731.9 1641.5ZM1740.8 1641.5V1640.1H1747.1V1641.5ZM1764.9 1641.5L1764.9 1641.5L1768.9 1639.1L1769.9 1639.1L1773.6 1640L1774.5 1641.5L1774.5 1641.5ZM1778.3 1641.5V1640.1H1784V1641.5ZM1833.1 1641.5L1833.1 1641.5L1837 1639.4L1847.4 1639.4L1850.4 1638.5L1853.3 1635.5L1856.3 1632L1858.8 1631.1L1859.8 1631.1L1861.7 1631.4L1862.9 1634.9L1865.8 1634.9L1867.6 1637L1869.7 1637.9L1872.1 1633.5L1874.2 1618.6L1876.2 1611.1L1878 1597.7L1879 1591.8L1880 1591.8L1881 1593.3L1882 1590.9L1883 1590.9L1883.7 1597.7L1886.1 1602.2L1888.2 1609.6L1889.6 1626L1891.4 1631.1L1893.5 1634.3L1895.9 1637L1898 1636.4L1900.5 1634.9L1901.5 1634.9L1903.9 1636.4L1906 1639.7L1911.4 1639.7L1913.5 1637.9L1916.8 1637L1917.8 1637L1921.2 1637.9L1923.3 1639.7L1932.2 1639.7L1935.2 1638.8L1937.1 1636.7L1938.1 1636.7L1941.1 1637.6L1944.1 1639.4L1950.1 1639.7L1953 1641.5L1953 1641.5ZM1953 1641.5L1953 1641.5L1954.5 1637.9L1956.9 1633.5L1959 1629L1962 1626.9L1964.9 1624.5L1966.4 1622.4L1968.5 1622.4L1968.9 1617.1L1969.9 1617.1L1971.5 1621.6L1973.3 1627.5L1975.4 1634.3L1977.4 1641.5L1977.4 1641.5ZM1980.7 1641.5L1980.7 1641.5L1983.7 1637.9L1985.3 1636.4L1986.3 1636.4L1987.9 1637.9L1990.8 1639.4L2001.2 1639.7L2002.1 1641.5L2002.1 1641.5ZM2017.9 1641.5V1640.1H2029.8V1641.5ZM2038.8 1641.5V1640.1H2044.7V1641.5ZM2076.5 1641.5V1640.1H2083.1V1641.5ZM2085.5 1641.5L2085.5 1641.5L2088 1639.1L2089 1639.1L2092.9 1640L2093.5 1641.5L2093.5 1641.5ZM2098.9 1641.5L2098.9 1641.5L2102.8 1639.1L2103.8 1639.1L2106.9 1639.7L2113.8 1639.7L2114.3 1641.5L2114.3 1641.5ZM2118.8 1641.5L2118.8 1641.5L2121.8 1639.4L2125.7 1637.3L2128.1 1636.4L2129.1 1636.4L2131.6 1637.9L2134.6 1640.3L2134.9 1641.5L2134.9 1641.5ZM2156.9 1641.5V1640.1H2169.7V1641.5ZM2264 1641.5V1640.1H2269.1V1641.5ZM2276 1641.5L2276 1641.5L2279.5 1639.1L2284 1639.1L2285.5 1639.7L2288.5 1639.1L2292.9 1639.1L2294.4 1639.7L2296.8 1639.1L2300.4 1639.1L2302.7 1641.5L2302.7 1641.5ZM2338.2 1641.5L2338.2 1641.5L2343.5 1639.4L2346 1638.8L2347 1638.8L2350.4 1639.1L2353.3 1641.5L2353.3 1641.5ZM2357.8 1641.5L2357.8 1641.5L2361.8 1639.1L2362.8 1639.1L2365.8 1639.7L2367.3 1641.5L2367.3 1641.5ZM2375.7 1641.5L2375.7 1641.5L2379.3 1639.1L2380.3 1639.1L2383.7 1640L2384.3 1641.5L2384.3 1641.5ZM2401 1641.5L2401 1641.5L2404 1639.1L2405 1639.1L2408.1 1640L2411.1 1640L2412 1639.7L2420.9 1639.7L2421.5 1641.5L2421.5 1641.5ZM2436.7 1641.5V1640.1H2442.3V1641.5ZM2450.7 1641.5V1640.1H2461.1V1641.5ZM2467.9 1641.5L2467.9 1641.5L2468.5 1639.1L2471.9 1638.5L2472.9 1638.5L2474.5 1639.4L2477.4 1640L2478 1641.5L2478 1641.5ZM2616.7 1641.5L2616.7 1641.5L2617.3 1639.1L2619.8 1638.2L2620.8 1638.2L2622.4 1639.4L2624.8 1640L2625.4 1641.5L2625.4 1641.5ZM2634.6 1641.5L2634.6 1641.5L2635.8 1639.1L2639.6 1638.2L2648.6 1638.2L2650.1 1639.7L2650.7 1641.5L2650.7 1641.5ZM2652.1 1641.5L2652.1 1641.5L2653 1639.7L2655.5 1639.1L2656.5 1639.1L2662 1639.7L2662.6 1641.5L2662.6 1641.5ZM2663.5 1641.5L2663.5 1641.5L2666.4 1638.8L2667.9 1637.9L2672.4 1637.9L2675.4 1639.1L2677.4 1641.5L2677.4 1641.5ZM2679.8 1641.5L2679.8 1641.5L2682.8 1638.8L2684.4 1638.2L2685.4 1638.2L2688.8 1639.1L2691.1 1641.5L2691.1 1641.5ZM2716.4 1641.5V1640.1H2723V1641.5ZM2726.8 1641.5L2726.8 1641.5L2730.4 1639.4L2733.4 1638.8L2735.9 1638.2L2736.9 1638.2L2737.3 1639.4L2740.8 1639.7L2741.4 1641.5L2741.4 1641.5ZM2755.7 1641.5V1640.1H2762.3V1641.5ZM2767.6 1641.5V1640.1H2775.1V1641.5ZM2788.5 1641.5L2788.5 1641.5L2791.4 1639.4L2800.4 1639.4L2803.4 1638.2L2804.4 1638.2L2806.3 1639.1L2808.7 1641.5L2808.7 1641.5ZM2811.7 1641.5L2811.7 1641.5L2815.2 1639.4L2817.1 1638.2L2818.1 1638.2L2819.7 1639.1L2823.6 1639.1L2825.7 1638.2L2828.1 1637.6L2829.1 1637.6L2833.1 1637.9L2834 1641.5L2834 1641.5ZM2839.9 1641.5L2839.9 1641.5L2842 1637.9L2845 1636.4L2846.5 1632L2848.6 1626.6L2850.5 1625.1L2851.5 1625.1L2853 1626L2854.5 1632L2856.3 1635.5L2858.4 1637L2861.4 1636.1L2865.2 1636.1L2868.2 1638.8L2870.3 1641.5L2870.3 1641.5ZM2878.6 1641.5L2878.6 1641.5L2881.3 1637.9L2883.2 1634.3L2884.2 1634.3L2886.7 1634.9L2889 1636.4L2889.6 1641.5L2889.6 1641.5ZM2891.1 1641.5L2891.1 1641.5L2894.1 1639.4L2895 1636.4L2896.6 1636.1L2897.6 1636.1L2898.6 1637.3L2900.7 1637.3L2901 1641.5L2901 1641.5ZM2928.9 1641.5V1640.1H2934.8V1641.5ZM2941.7 1641.5L2941.7 1641.5L2943.2 1639.7L2949.1 1639.7L2951.2 1638.2L2955.1 1638.2L2956.5 1639.7L2957.1 1641.5L2957.1 1641.5ZM2964.9 1641.5V1640.1H2970.8V1641.5ZM2975.9 1641.5V1640.1H2981V1641.5ZM2985.7 1641.5L2985.7 1641.5L2988.7 1639.1L2991.2 1637.6L2992.2 1637.6L2994.6 1638.8L2997.6 1639.7L2998.2 1641.5L2998.2 1641.5ZM3005.1 1641.5V1640.1H3019.9V1641.5ZM3030.1 1641.5L3030.1 1641.5L3031 1639.7L3048.8 1639.7L3051.2 1639.1L3054.8 1639.1L3055.7 1640L3058.6 1640L3060.1 1638.2L3061.7 1637.6L3062.7 1637.6L3064.3 1638.8L3066.7 1640.3L3067.3 1641.5L3067.3 1641.5ZM3074.1 1641.5L3074.1 1641.5L3075.6 1639.7L3083 1639.7L3086 1638.2L3089 1638.2L3092 1639.4L3094.9 1640.3L3095.5 1641.5L3095.5 1641.5ZM3098.8 1641.5L3098.8 1641.5L3100.9 1637.9L3105.4 1636.1L3108.3 1634.3L3110.7 1634.3L3111.9 1636.4L3115.8 1638.2L3119.6 1638.8L3121.2 1637.9L3122.2 1637.9L3123.2 1638.8L3125.7 1638.5L3126.7 1638.5L3128.6 1638.8L3130.7 1637L3133.6 1635.8L3136.6 1634.3L3139 1632L3141.1 1628.1L3143 1626.6L3144 1626.6L3146.4 1627.5L3148.5 1627.5L3150 1622.4L3151.9 1619.2L3152.9 1619.2L3154.5 1621.6L3157.4 1623.9L3159.5 1626.9L3161.9 1631.4L3163.4 1637.9L3165.8 1638.8L3167 1623L3168.8 1611.1L3170.8 1596.3L3172.3 1594.8L3174.8 1594.2L3175.8 1594.2L3176.8 1600.7L3178.3 1608.2L3179.8 1617.1L3181.8 1626L3184.2 1632.6L3186.6 1637L3189.3 1639.4L3193.2 1638.8L3195.5 1634.9L3197.6 1631.1L3199.5 1629L3200.5 1629L3202.1 1631.1L3204.2 1634.3L3206.5 1636.4L3209.5 1635.5L3211.4 1634.1L3212.4 1634.1L3214 1635.8L3216.1 1638.5L3217.6 1639.7L3229.5 1639.7L3230.4 1641.5L3230.4 1641.5ZM3233.9 1641.5V1640.1H3239.3V1641.5ZM3253.3 1641.5L3253.3 1641.5L3254.2 1639.7L3267.6 1639.7L3268.5 1638.8L3269.5 1638.8L3272 1639.1L3274.1 1641.5L3274.1 1641.5ZM3287.8 1641.5V1640.1H3289.9V1641.5ZM3296.7 1641.5L3296.7 1641.5L3299.8 1639.1L3300.8 1639.1L3303.3 1640L3303.9 1641.5L3303.9 1641.5ZM3310.1 1641.5L3310.1 1641.5L3312.2 1639.1L3316.7 1639.1L3318.5 1638.2L3319.5 1638.2L3322 1638.8L3324.1 1641.5L3324.1 1641.5ZM3327.1 1641.5L3327.1 1641.5L3328.6 1639.7L3331 1639.1L3332 1639.1L3334.5 1640L3335.4 1641.5L3335.4 1641.5ZM3389.6 1641.5V1640.1H3394V1641.5Z" fill="#8E0152" shape-rendering="crispEdges"/>
<rect x="458" y="1641" width="3096" height="1" fill="#000"/>
<text transform="translate(308.2 1574.8) scale(1 1.04)" font-size="36.67" text-anchor="middle" fill="#1A1A1A">7 Fascia</text>
<rect x="158" y="45" width="4" height="1604" fill="#000"/>
<path d="M149 215.1H160M149 181.3H160M149 147.5H160M149 113.6H160M149 79.8H160M149 47H160M149 393.1H160M149 359.3H160M149 325.5H160M149 291.6H160M149 257.8H160M149 224H160M149 572.1H160M149 538.3H160M149 504.5H160M149 470.6H160M149 436.8H160M149 403H160M149 750.1H160M149 716.3H160M149 682.5H160M149 648.6H160M149 614.8H160M149 581H160M149 928.1H160M149 894.3H160M149 860.5H160M149 826.6H160M149 792.8H160M149 759H160M149 1106.1H160M149 1072.3H160M149 1038.5H160M149 1004.6H160M149 970.8H160M149 937H160M149 1284.1H160M149 1250.3H160M149 1216.5H160M149 1182.6H160M149 1148.8H160M149 1115H160M149 1462.1H160M149 1428.3H160M149 1394.5H160M149 1360.6H160M149 1326.8H160M149 1293H160M149 1641.1H160M149 1607.3H160M149 1573.5H160M149 1539.6H160M149 1505.8H160M149 1472H160" stroke="#333" stroke-width="3.7" fill="none"/>
<text transform="translate(80.6 854) rotate(-90) scale(1 1.04)" font-size="45.83" text-anchor="middle" fill="#000">Normalized accessibility</text>
<text transform="translate(130.2 846) rotate(-90) scale(1 1.04)" font-size="45.83" text-anchor="middle" fill="#000">(range 0 - 240)</text>
<rect x="158" y="1706" width="4" height="319.3" fill="#000"/>
<text transform="translate(106.5 1866) rotate(-90) scale(1 1.04)" font-size="45.83" text-anchor="middle" fill="#000">Genes</text>
<rect x="1116" y="1857" width="575" height="4" fill="#006400"/>
<rect x="1116.1" y="1837.1" width="6.8" height="43.8" fill="#006400"/>
<rect x="1622" y="1837.1" width="9.9" height="43.8" fill="#006400"/>
<rect x="1654" y="1837.1" width="9" height="43.8" fill="#006400"/>
<rect x="1685" y="1837.1" width="6" height="43.8" fill="#006400"/>
<polyline points="1126.7,1849.2 1117,1859 1126.7,1870" fill="none" stroke="#006400" stroke-width="4.0" stroke-linejoin="round"/>
<polyline points="1194.4,1849.2 1184.7,1859 1194.4,1870" fill="none" stroke="#006400" stroke-width="4.0" stroke-linejoin="round"/>
<polyline points="1262.2,1849.2 1252.5,1859 1262.2,1870" fill="none" stroke="#006400" stroke-width="4.0" stroke-linejoin="round"/>
<polyline points="1329.9,1849.2 1320.2,1859 1329.9,1870" fill="none" stroke="#006400" stroke-width="4.0" stroke-linejoin="round"/>
<polyline points="1397.7,1849.2 1388,1859 1397.7,1870" fill="none" stroke="#006400" stroke-width="4.0" stroke-linejoin="round"/>
<polyline points="1465.4,1849.2 1455.7,1859 1465.4,1870" fill="none" stroke="#006400" stroke-width="4.0" stroke-linejoin="round"/>
<polyline points="1533.1,1849.2 1523.4,1859 1533.1,1870" fill="none" stroke="#006400" stroke-width="4.0" stroke-linejoin="round"/>
<polyline points="1600.9,1849.2 1591.2,1859 1600.9,1870" fill="none" stroke="#006400" stroke-width="4.0" stroke-linejoin="round"/>
<polyline points="1668.6,1849.2 1658.9,1859 1668.6,1870" fill="none" stroke="#006400" stroke-width="4.0" stroke-linejoin="round"/>
<text transform="translate(1403.7 1817.4) scale(1 1.04)" font-size="35.6" text-anchor="middle" fill="#000" letter-spacing="0.6">Gm20476</text>
<rect x="1073" y="1996.1" width="2001.5" height="4" fill="#00008B"/>
<rect x="1073.1" y="1976.1" width="9.9" height="43.5" fill="#00008B"/>
<rect x="1346.3" y="1976.1" width="15.4" height="43.5" fill="#00008B"/>
<rect x="1371.3" y="1976.1" width="36.6" height="43.5" fill="#00008B"/>
<rect x="2794.9" y="1976.1" width="10.2" height="43.5" fill="#00008B"/>
<rect x="2840.8" y="1976.1" width="7.2" height="43.5" fill="#00008B"/>
<rect x="2890.8" y="1976.1" width="28.2" height="43.5" fill="#00008B"/>
<rect x="3006.9" y="1976.1" width="3.9" height="43.5" fill="#00008B"/>
<rect x="3024.8" y="1976.1" width="49.3" height="43.5" fill="#00008B"/>
<polyline points="1063.4,1987.3 1073.5,1998.1 1063.4,2009.8" fill="none" stroke="#00008B" stroke-width="4.0" stroke-linejoin="round"/>
<polyline points="1131.1,1987.3 1141.2,1998.1 1131.1,2009.8" fill="none" stroke="#00008B" stroke-width="4.0" stroke-linejoin="round"/>
<polyline points="1198.9,1987.3 1209,1998.1 1198.9,2009.8" fill="none" stroke="#00008B" stroke-width="4.0" stroke-linejoin="round"/>
<polyline points="1266.6,1987.3 1276.7,1998.1 1266.6,2009.8" fill="none" stroke="#00008B" stroke-width="4.0" stroke-linejoin="round"/>
<polyline points="1334.3,1987.3 1344.4,1998.1 1334.3,2009.8" fill="none" stroke="#00008B" stroke-width="4.0" stroke-linejoin="round"/>
<polyline points="1402,1987.3 1412.1,1998.1 1402,2009.8" fill="none" stroke="#00008B" stroke-width="4.0" stroke-linejoin="round"/>
<polyline points="1469.8,1987.3 1479.8,1998.1 1469.8,2009.8" fill="none" stroke="#00008B" stroke-width="4.0" stroke-linejoin="round"/>
<polyline points="1537.5,1987.3 1547.6,1998.1 1537.5,2009.8" fill="none" stroke="#00008B" stroke-width="4.0" stroke-linejoin="round"/>
<polyline points="1605.2,1987.3 1615.3,1998.1 1605.2,2009.8" fill="none" stroke="#00008B" stroke-width="4.0" stroke-linejoin="round"/>
<polyline points="1672.9,1987.3 1683,1998.1 1672.9,2009.8" fill="none" stroke="#00008B" stroke-width="4.0" stroke-linejoin="round"/>
<polyline points="1740.7,1987.3 1750.8,1998.1 1740.7,2009.8" fill="none" stroke="#00008B" stroke-width="4.0" stroke-linejoin="round"/>
<polyline points="1808.4,1987.3 1818.5,1998.1 1808.4,2009.8" fill="none" stroke="#00008B" stroke-width="4.0" stroke-linejoin="round"/>
<polyline points="1876.1,1987.3 1886.2,1998.1 1876.1,2009.8" fill="none" stroke="#00008B" stroke-width="4.0" stroke-linejoin="round"/>
<polyline points="1943.8,1987.3 1953.9,1998.1 1943.8,2009.8" fill="none" stroke="#00008B" stroke-width="4.0" stroke-linejoin="round"/>
<polyline points="2011.5,1987.3 2021.6,1998.1 2011.5,2009.8" fill="none" stroke="#00008B" stroke-width="4.0" stroke-linejoin="round"/>
<polyline points="2079.3,1987.3 2089.4,1998.1 2079.3,2009.8" fill="none" stroke="#00008B" stroke-width="4.0" stroke-linejoin="round"/>
<polyline points="2147,1987.3 2157.1,1998.1 2147,2009.8" fill="none" stroke="#00008B" stroke-width="4.0" stroke-linejoin="round"/>
<polyline points="2214.7,1987.3 2224.8,1998.1 2214.7,2009.8" fill="none" stroke="#00008B" stroke-width="4.0" stroke-linejoin="round"/>
<polyline points="2282.5,1987.3 2292.6,1998.1 2282.5,2009.8" fill="none" stroke="#00008B" stroke-width="4.0" stroke-linejoin="round"/>
<polyline points="2350.2,1987.3 2360.3,1998.1 2350.2,2009.8" fill="none" stroke="#00008B" stroke-width="4.0" stroke-linejoin="round"/>
<polyline points="2417.9,1987.3 2428,1998.1 2417.9,2009.8" fill="none" stroke="#00008B" stroke-width="4.0" stroke-linejoin="round"/>
<polyline points="2485.6,1987.3 2495.7,1998.1 2485.6,2009.8" fill="none" stroke="#00008B" stroke-width="4.0" stroke-linejoin="round"/>
<polyline points="2553.3,1987.3 2563.4,1998.1 2553.3,2009.8" fill="none" stroke="#00008B" stroke-width="4.0" stroke-linejoin="round"/>
<polyline points="2621.1,1987.3 2631.2,1998.1 2621.1,2009.8" fill="none" stroke="#00008B" stroke-width="4.0" stroke-linejoin="round"/>
<polyline points="2688.8,1987.3 2698.9,1998.1 2688.8,2009.8" fill="none" stroke="#00008B" stroke-width="4.0" stroke-linejoin="round"/>
<polyline points="2756.5,1987.3 2766.6,1998.1 2756.5,2009.8" fill="none" stroke="#00008B" stroke-width="4.0" stroke-linejoin="round"/>
<polyline points="2824.2,1987.3 2834.3,1998.1 2824.2,2009.8" fill="none" stroke="#00008B" stroke-width="4.0" stroke-linejoin="round"/>
<polyline points="2892,1987.3 2902.1,1998.1 2892,2009.8" fill="none" stroke="#00008B" stroke-width="4.0" stroke-linejoin="round"/>
<polyline points="2959.7,1987.3 2969.8,1998.1 2959.7,2009.8" fill="none" stroke="#00008B" stroke-width="4.0" stroke-linejoin="round"/>
<polyline points="3027.4,1987.3 3037.5,1998.1 3027.4,2009.8" fill="none" stroke="#00008B" stroke-width="4.0" stroke-linejoin="round"/>
<polyline points="3063.8,1987.3 3073.9,1998.1 3063.8,2009.8" fill="none" stroke="#00008B" stroke-width="4.0" stroke-linejoin="round"/>
<text transform="translate(2074.2 1957.2) scale(1 1.04)" font-size="35.6" text-anchor="middle" fill="#000" letter-spacing="0.4">Stard10</text>
<rect x="3172" y="1996.1" width="241" height="4" fill="#00008B"/>
<rect x="3172.1" y="1976.1" width="8.9" height="43.5" fill="#00008B"/>
<polyline points="3161.4,1987.3 3171.5,1998.1 3161.4,2009.8" fill="none" stroke="#00008B" stroke-width="4.0" stroke-linejoin="round"/>
<polyline points="3229.1,1987.3 3239.2,1998.1 3229.1,2009.8" fill="none" stroke="#00008B" stroke-width="4.0" stroke-linejoin="round"/>
<polyline points="3297.3,1987.3 3307.4,1998.1 3297.3,2009.8" fill="none" stroke="#00008B" stroke-width="4.0" stroke-linejoin="round"/>
<polyline points="3365.4,1987.3 3375.5,1998.1 3365.4,2009.8" fill="none" stroke="#00008B" stroke-width="4.0" stroke-linejoin="round"/>
<polyline points="3402.9,1987.3 3413,1998.1 3402.9,2009.8" fill="none" stroke="#00008B" stroke-width="4.0" stroke-linejoin="round"/>
<text transform="translate(3290.6 1957.2) scale(1 1.04)" font-size="35.0" text-anchor="middle" fill="#000">Arap1</text>
<rect x="158" y="2084" width="4" height="159.6" fill="#000"/>
<text transform="translate(105.5 2164) rotate(-90) scale(1 1.04)" font-size="45.83" text-anchor="middle" fill="#000" letter-spacing="0.5">Peaks</text>
<rect x="598.8" y="2156.2" width="82.2" height="16.6" fill="#696969"/>
<rect x="1313.8" y="2156.2" width="92.3" height="16.6" fill="#696969"/>
<rect x="1852" y="2156.2" width="61.3" height="16.6" fill="#696969"/>
<rect x="1953" y="2156.2" width="32.2" height="16.6" fill="#696969"/>
<rect x="2814.8" y="2156.2" width="56.2" height="16.6" fill="#696969"/>
<rect x="3123.6" y="2156.2" width="89.5" height="16.6" fill="#696969"/>
<rect x="458" y="2241.9" width="3096" height="4.1" fill="#000"/>
<path d="M593.1 2244.3V2254.7M1270.7 2244.3V2254.7M1948.2 2244.3V2254.7M2625.8 2244.3V2254.7M3303.3 2244.3V2254.7" stroke="#333" stroke-width="3.7" fill="none"/>
<text transform="translate(593.1 2293.2) scale(1 1.04)" font-size="37.7" text-anchor="middle" fill="#4D4D4D">101310000</text>
<text transform="translate(1270.7 2293.2) scale(1 1.04)" font-size="37.7" text-anchor="middle" fill="#4D4D4D">101320000</text>
<text transform="translate(1948.2 2293.2) scale(1 1.04)" font-size="37.7" text-anchor="middle" fill="#4D4D4D">101330000</text>
<text transform="translate(2625.8 2293.2) scale(1 1.04)" font-size="37.7" text-anchor="middle" fill="#4D4D4D">101340000</text>
<text transform="translate(3303.3 2293.2) scale(1 1.04)" font-size="37.7" text-anchor="middle" fill="#4D4D4D">101350000</text>
<text transform="translate(2006.4 2345.6) scale(1 1.04)" font-size="45.83" text-anchor="middle" fill="#000" letter-spacing="0.37">chr7 position (bp)</text>
</svg>
</body></html>
